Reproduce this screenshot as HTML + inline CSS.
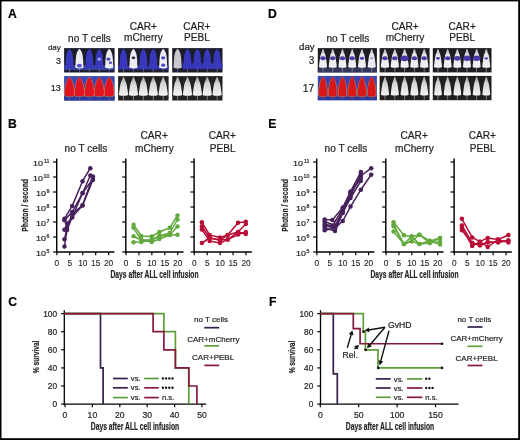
<!DOCTYPE html>
<html><head><meta charset="utf-8"><style>
html,body{margin:0;padding:0;background:#fff;}
svg{display:block;font-family:"Liberation Sans", sans-serif;will-change:transform;}
text{stroke:#1e1e1e;stroke-width:0.2px;}
text.t{stroke-width:0.1px;}
</style></head><body>
<svg width="520" height="440" viewBox="0 0 520 440">
<defs>
<linearGradient id="gW" x1="0" y1="0" x2="0" y2="1"><stop offset="0" stop-color="#a0a0a0"/><stop offset="0.35" stop-color="#d6d6d6"/><stop offset="1" stop-color="#f4f4f4"/></linearGradient>
<linearGradient id="gW2" x1="0" y1="0" x2="0" y2="1"><stop offset="0" stop-color="#b0b0b8"/><stop offset="0.3" stop-color="#e4e4ec"/><stop offset="1" stop-color="#f2f2f6"/></linearGradient>
</defs>
<rect width="520" height="440" fill="#fff"/>
<rect x="0" y="0" width="520" height="1.4" fill="#000"/>
<rect x="0" y="0" width="1.5" height="440" fill="#000"/>
<rect x="518.2" y="0" width="1.8" height="440" fill="#000"/>
<rect x="0" y="438.2" width="520" height="1.8" fill="#000"/>
<text x="7.9" y="17.7" font-size="12.2" text-anchor="start" font-weight="bold" fill="#000" >A</text>
<text x="268.0" y="18" font-size="12.2" text-anchor="start" font-weight="bold" fill="#000" >D</text>
<text x="8.1" y="127.9" font-size="12.2" text-anchor="start" font-weight="bold" fill="#000" >B</text>
<text x="268.2" y="127.9" font-size="12.2" text-anchor="start" font-weight="bold" fill="#000" >E</text>
<text x="8.2" y="305.8" font-size="12.2" text-anchor="start" font-weight="bold" fill="#000" >C</text>
<text x="268.9" y="305.8" font-size="12.2" text-anchor="start" font-weight="bold" fill="#000" >F</text>
<rect x="64.1" y="48.1" width="50.50" height="24.40" fill="#1c1d2c"/>
<rect x="64.10" y="65.18" width="50.50" height="4.88" fill="#3a40a0"/>
<line x1="69.5" y1="68.108" x2="69.5" y2="71.9" stroke="#6060a0" stroke-width="0.9" />
<path d="M69.50,49.08 C69.91,49.08 70.35,49.71 70.72,50.22 C71.09,50.73 71.41,51.30 71.74,52.12 C72.06,52.95 72.44,53.93 72.67,55.17 C72.91,56.40 73.05,58.02 73.16,59.54 C73.28,61.07 73.40,62.87 73.37,64.30 C73.33,65.73 74.18,67.47 72.96,68.11 C71.74,68.74 67.26,68.74 66.04,68.11 C64.82,67.47 65.67,65.73 65.63,64.30 C65.60,62.87 65.72,61.07 65.84,59.54 C65.95,58.02 66.09,56.40 66.33,55.17 C66.56,53.93 66.94,52.95 67.26,52.12 C67.59,51.30 67.91,50.73 68.28,50.22 C68.65,49.71 69.09,49.08 69.50,49.08 Z" fill="#3838bc"/>
<line x1="79.425" y1="68.108" x2="79.425" y2="71.9" stroke="#6060a0" stroke-width="0.9" />
<path d="M79.42,49.08 C79.83,49.08 80.27,49.71 80.65,50.22 C81.02,50.73 81.34,51.30 81.66,52.12 C81.99,52.95 82.36,53.93 82.60,55.17 C82.84,56.40 82.97,58.02 83.09,59.54 C83.20,61.07 83.32,62.87 83.29,64.30 C83.26,65.73 84.10,67.47 82.88,68.11 C81.66,68.74 77.19,68.74 75.97,68.11 C74.75,67.47 75.59,65.73 75.56,64.30 C75.53,62.87 75.65,61.07 75.76,59.54 C75.88,58.02 76.01,56.40 76.25,55.17 C76.49,53.93 76.86,52.95 77.19,52.12 C77.51,51.30 77.83,50.73 78.20,50.22 C78.58,49.71 79.02,49.08 79.42,49.08 Z" fill="#ececf2"/>
<ellipse cx="79.42" cy="65.67" rx="2.44" ry="1.95" fill="#5050c8"/>
<line x1="89.35" y1="68.108" x2="89.35" y2="71.9" stroke="#6060a0" stroke-width="0.9" />
<path d="M89.35,49.08 C89.76,49.08 90.20,49.71 90.57,50.22 C90.94,50.73 91.26,51.30 91.59,52.12 C91.91,52.95 92.29,53.93 92.52,55.17 C92.76,56.40 92.90,58.02 93.01,59.54 C93.13,61.07 93.25,62.87 93.22,64.30 C93.18,65.73 94.03,67.47 92.81,68.11 C91.59,68.74 87.11,68.74 85.89,68.11 C84.67,67.47 85.52,65.73 85.48,64.30 C85.45,62.87 85.57,61.07 85.69,59.54 C85.80,58.02 85.94,56.40 86.18,55.17 C86.41,53.93 86.79,52.95 87.11,52.12 C87.44,51.30 87.76,50.73 88.13,50.22 C88.50,49.71 88.94,49.08 89.35,49.08 Z" fill="#3838bc"/>
<line x1="99.275" y1="68.108" x2="99.275" y2="71.9" stroke="#6060a0" stroke-width="0.9" />
<path d="M99.28,49.08 C99.68,49.08 100.12,49.71 100.50,50.22 C100.87,50.73 101.19,51.30 101.51,52.12 C101.84,52.95 102.21,53.93 102.45,55.17 C102.69,56.40 102.82,58.02 102.94,59.54 C103.05,61.07 103.17,62.87 103.14,64.30 C103.11,65.73 103.95,67.47 102.73,68.11 C101.51,68.74 97.04,68.74 95.82,68.11 C94.60,67.47 95.44,65.73 95.41,64.30 C95.38,62.87 95.50,61.07 95.61,59.54 C95.73,58.02 95.86,56.40 96.10,55.17 C96.34,53.93 96.71,52.95 97.04,52.12 C97.36,51.30 97.68,50.73 98.05,50.22 C98.43,49.71 98.87,49.08 99.28,49.08 Z" fill="#3838bc"/>
<ellipse cx="99.28" cy="59.08" rx="2.03" ry="1.63" fill="#9aa0e8"/>
<line x1="109.2" y1="68.108" x2="109.2" y2="71.9" stroke="#6060a0" stroke-width="0.9" />
<path d="M109.20,49.08 C109.61,49.08 110.05,49.71 110.42,50.22 C110.79,50.73 111.11,51.30 111.44,52.12 C111.76,52.95 112.14,53.93 112.37,55.17 C112.61,56.40 112.75,58.02 112.86,59.54 C112.98,61.07 113.10,62.87 113.07,64.30 C113.03,65.73 113.88,67.47 112.66,68.11 C111.44,68.74 106.96,68.74 105.74,68.11 C104.52,67.47 105.37,65.73 105.33,64.30 C105.30,62.87 105.42,61.07 105.54,59.54 C105.65,58.02 105.79,56.40 106.03,55.17 C106.26,53.93 106.64,52.95 106.96,52.12 C107.29,51.30 107.61,50.73 107.98,50.22 C108.35,49.71 108.79,49.08 109.20,49.08 Z" fill="#ececf2"/>
<ellipse cx="108.39" cy="59.08" rx="2.03" ry="1.63" fill="#4848c0"/>
<ellipse cx="110.42" cy="62.74" rx="1.63" ry="1.30" fill="#4848c0"/>
<rect x="64.1" y="76.1" width="50.50" height="24.40" fill="#3848b0"/>
<rect x="64.10" y="96.11" width="50.50" height="4.39" fill="#2e3a98"/>
<line x1="69.5" y1="96.108" x2="69.5" y2="99.9" stroke="#505aa0" stroke-width="0.9" />
<path d="M69.50,76.92 C70.10,76.92 70.72,78.28 71.31,79.26 C71.89,80.23 72.54,81.37 73.01,82.77 C73.49,84.16 73.87,86.18 74.15,87.64 C74.42,89.10 74.65,90.30 74.66,91.54 C74.68,92.77 74.51,94.23 74.25,95.04 C73.99,95.86 74.51,96.18 73.12,96.41 C71.72,96.64 67.28,96.64 65.88,96.41 C64.49,96.18 65.01,95.86 64.75,95.04 C64.49,94.23 64.32,92.77 64.34,91.54 C64.35,90.30 64.58,89.10 64.85,87.64 C65.13,86.18 65.51,84.16 65.99,82.77 C66.46,81.37 67.11,80.23 67.69,79.26 C68.28,78.28 68.90,76.92 69.50,76.92 Z" fill="#d89050"/>
<path d="M69.50,77.32 C70.04,77.32 70.60,78.64 71.13,79.57 C71.66,80.51 72.24,81.61 72.67,82.96 C73.10,84.30 73.45,86.24 73.70,87.65 C73.95,89.06 74.15,90.22 74.16,91.41 C74.18,92.60 74.02,94.01 73.79,94.79 C73.56,95.58 74.02,95.89 72.77,96.11 C71.51,96.33 67.49,96.33 66.23,96.11 C64.98,95.89 65.44,95.58 65.21,94.79 C64.98,94.01 64.82,92.60 64.84,91.41 C64.85,90.22 65.05,89.06 65.30,87.65 C65.55,86.24 65.90,84.30 66.33,82.96 C66.76,81.61 67.34,80.51 67.87,79.57 C68.40,78.64 68.96,77.32 69.50,77.32 Z" fill="#e01420"/>
<line x1="79.425" y1="96.108" x2="79.425" y2="99.9" stroke="#505aa0" stroke-width="0.9" />
<path d="M79.42,76.92 C80.03,76.92 80.65,78.28 81.23,79.26 C81.82,80.23 82.46,81.37 82.94,82.77 C83.41,84.16 83.80,86.18 84.07,87.64 C84.35,89.10 84.57,90.30 84.59,91.54 C84.61,92.77 84.43,94.23 84.18,95.04 C83.92,95.86 84.43,96.18 83.04,96.41 C81.65,96.64 77.20,96.64 75.81,96.41 C74.42,96.18 74.93,95.86 74.67,95.04 C74.42,94.23 74.24,92.77 74.26,91.54 C74.28,90.30 74.50,89.10 74.78,87.64 C75.05,86.18 75.44,84.16 75.91,82.77 C76.39,81.37 77.03,80.23 77.62,79.26 C78.20,78.28 78.82,76.92 79.42,76.92 Z" fill="#d89050"/>
<path d="M79.42,77.32 C79.97,77.32 80.53,78.64 81.06,79.57 C81.59,80.51 82.17,81.61 82.60,82.96 C83.02,84.30 83.37,86.24 83.62,87.65 C83.87,89.06 84.07,90.22 84.09,91.41 C84.11,92.60 83.95,94.01 83.72,94.79 C83.48,95.58 83.95,95.89 82.69,96.11 C81.43,96.33 77.42,96.33 76.16,96.11 C74.90,95.89 75.37,95.58 75.13,94.79 C74.90,94.01 74.74,92.60 74.76,91.41 C74.78,90.22 74.98,89.06 75.23,87.65 C75.48,86.24 75.83,84.30 76.25,82.96 C76.68,81.61 77.26,80.51 77.79,79.57 C78.32,78.64 78.88,77.32 79.42,77.32 Z" fill="#e01420"/>
<line x1="89.35" y1="96.108" x2="89.35" y2="99.9" stroke="#505aa0" stroke-width="0.9" />
<path d="M89.35,76.92 C89.95,76.92 90.57,78.28 91.16,79.26 C91.74,80.23 92.39,81.37 92.86,82.77 C93.34,84.16 93.72,86.18 94.00,87.64 C94.27,89.10 94.50,90.30 94.51,91.54 C94.53,92.77 94.36,94.23 94.10,95.04 C93.84,95.86 94.36,96.18 92.97,96.41 C91.57,96.64 87.13,96.64 85.73,96.41 C84.34,96.18 84.86,95.86 84.60,95.04 C84.34,94.23 84.17,92.77 84.19,91.54 C84.20,90.30 84.43,89.10 84.70,87.64 C84.98,86.18 85.36,84.16 85.84,82.77 C86.31,81.37 86.96,80.23 87.54,79.26 C88.13,78.28 88.75,76.92 89.35,76.92 Z" fill="#d89050"/>
<path d="M89.35,77.32 C89.89,77.32 90.45,78.64 90.98,79.57 C91.51,80.51 92.09,81.61 92.52,82.96 C92.95,84.30 93.30,86.24 93.55,87.65 C93.80,89.06 94.00,90.22 94.01,91.41 C94.03,92.60 93.87,94.01 93.64,94.79 C93.41,95.58 93.87,95.89 92.62,96.11 C91.36,96.33 87.34,96.33 86.08,96.11 C84.83,95.89 85.29,95.58 85.06,94.79 C84.83,94.01 84.67,92.60 84.69,91.41 C84.70,90.22 84.90,89.06 85.15,87.65 C85.40,86.24 85.75,84.30 86.18,82.96 C86.61,81.61 87.19,80.51 87.72,79.57 C88.25,78.64 88.81,77.32 89.35,77.32 Z" fill="#e01420"/>
<line x1="99.275" y1="96.108" x2="99.275" y2="99.9" stroke="#505aa0" stroke-width="0.9" />
<path d="M99.28,76.92 C99.88,76.92 100.50,78.28 101.08,79.26 C101.67,80.23 102.31,81.37 102.79,82.77 C103.26,84.16 103.65,86.18 103.92,87.64 C104.20,89.10 104.42,90.30 104.44,91.54 C104.46,92.77 104.28,94.23 104.03,95.04 C103.77,95.86 104.28,96.18 102.89,96.41 C101.50,96.64 97.05,96.64 95.66,96.41 C94.27,96.18 94.78,95.86 94.52,95.04 C94.27,94.23 94.09,92.77 94.11,91.54 C94.13,90.30 94.35,89.10 94.63,87.64 C94.90,86.18 95.29,84.16 95.76,82.77 C96.24,81.37 96.88,80.23 97.47,79.26 C98.05,78.28 98.67,76.92 99.28,76.92 Z" fill="#d89050"/>
<path d="M99.28,77.32 C99.82,77.32 100.38,78.64 100.91,79.57 C101.44,80.51 102.02,81.61 102.45,82.96 C102.87,84.30 103.22,86.24 103.47,87.65 C103.72,89.06 103.92,90.22 103.94,91.41 C103.96,92.60 103.80,94.01 103.57,94.79 C103.33,95.58 103.80,95.89 102.54,96.11 C101.28,96.33 97.27,96.33 96.01,96.11 C94.75,95.89 95.22,95.58 94.98,94.79 C94.75,94.01 94.59,92.60 94.61,91.41 C94.63,90.22 94.83,89.06 95.08,87.65 C95.33,86.24 95.68,84.30 96.10,82.96 C96.53,81.61 97.11,80.51 97.64,79.57 C98.17,78.64 98.73,77.32 99.28,77.32 Z" fill="#e01420"/>
<line x1="109.2" y1="96.108" x2="109.2" y2="99.9" stroke="#505aa0" stroke-width="0.9" />
<path d="M109.20,76.92 C109.80,76.92 110.42,78.28 111.01,79.26 C111.59,80.23 112.24,81.37 112.71,82.77 C113.19,84.16 113.57,86.18 113.85,87.64 C114.12,89.10 114.35,90.30 114.36,91.54 C114.38,92.77 114.21,94.23 113.95,95.04 C113.69,95.86 114.21,96.18 112.82,96.41 C111.42,96.64 106.98,96.64 105.58,96.41 C104.19,96.18 104.71,95.86 104.45,95.04 C104.19,94.23 104.02,92.77 104.04,91.54 C104.05,90.30 104.28,89.10 104.55,87.64 C104.83,86.18 105.21,84.16 105.69,82.77 C106.16,81.37 106.81,80.23 107.39,79.26 C107.98,78.28 108.60,76.92 109.20,76.92 Z" fill="#d89050"/>
<path d="M109.20,77.32 C109.74,77.32 110.30,78.64 110.83,79.57 C111.36,80.51 111.94,81.61 112.37,82.96 C112.80,84.30 113.15,86.24 113.40,87.65 C113.65,89.06 113.85,90.22 113.86,91.41 C113.88,92.60 113.72,94.01 113.49,94.79 C113.26,95.58 113.72,95.89 112.47,96.11 C111.21,96.33 107.19,96.33 105.93,96.11 C104.68,95.89 105.14,95.58 104.91,94.79 C104.68,94.01 104.52,92.60 104.54,91.41 C104.55,90.22 104.75,89.06 105.00,87.65 C105.25,86.24 105.60,84.30 106.03,82.96 C106.46,81.61 107.04,80.51 107.57,79.57 C108.10,78.64 108.66,77.32 109.20,77.32 Z" fill="#e01420"/>
<rect x="118.1" y="48.1" width="50.50" height="24.40" fill="#1c1c2a"/>
<rect x="118.10" y="65.67" width="50.50" height="3.90" fill="#3434a0"/>
<line x1="123.5" y1="68.108" x2="123.5" y2="71.9" stroke="#6060a0" stroke-width="0.9" />
<path d="M123.50,49.08 C123.91,49.08 124.35,49.71 124.72,50.22 C125.09,50.73 125.41,51.30 125.74,52.12 C126.06,52.95 126.44,53.93 126.67,55.17 C126.91,56.40 127.05,58.02 127.16,59.54 C127.28,61.07 127.40,62.87 127.37,64.30 C127.33,65.73 128.18,67.47 126.96,68.11 C125.74,68.74 121.26,68.74 120.04,68.11 C118.82,67.47 119.67,65.73 119.63,64.30 C119.60,62.87 119.72,61.07 119.84,59.54 C119.95,58.02 120.09,56.40 120.33,55.17 C120.56,53.93 120.94,52.95 121.26,52.12 C121.59,51.30 121.91,50.73 122.28,50.22 C122.65,49.71 123.09,49.08 123.50,49.08 Z" fill="#3838bc"/>
<line x1="133.425" y1="68.108" x2="133.425" y2="71.9" stroke="#6060a0" stroke-width="0.9" />
<path d="M133.43,49.08 C133.83,49.08 134.27,49.71 134.65,50.22 C135.02,50.73 135.34,51.30 135.66,52.12 C135.99,52.95 136.36,53.93 136.60,55.17 C136.84,56.40 136.97,58.02 137.09,59.54 C137.20,61.07 137.32,62.87 137.29,64.30 C137.26,65.73 138.10,67.47 136.88,68.11 C135.66,68.74 131.19,68.74 129.97,68.11 C128.75,67.47 129.59,65.73 129.56,64.30 C129.53,62.87 129.65,61.07 129.76,59.54 C129.88,58.02 130.01,56.40 130.25,55.17 C130.49,53.93 130.86,52.95 131.19,52.12 C131.51,51.30 131.83,50.73 132.20,50.22 C132.58,49.71 133.02,49.08 133.43,49.08 Z" fill="#ececf2"/>
<ellipse cx="133.43" cy="57.86" rx="1.83" ry="1.46" fill="#302838"/>
<line x1="143.35" y1="68.108" x2="143.35" y2="71.9" stroke="#6060a0" stroke-width="0.9" />
<path d="M143.35,49.08 C143.76,49.08 144.20,49.71 144.57,50.22 C144.94,50.73 145.26,51.30 145.59,52.12 C145.91,52.95 146.29,53.93 146.52,55.17 C146.76,56.40 146.90,58.02 147.01,59.54 C147.13,61.07 147.25,62.87 147.22,64.30 C147.18,65.73 148.03,67.47 146.81,68.11 C145.59,68.74 141.11,68.74 139.89,68.11 C138.67,67.47 139.52,65.73 139.48,64.30 C139.45,62.87 139.57,61.07 139.69,59.54 C139.80,58.02 139.94,56.40 140.18,55.17 C140.41,53.93 140.79,52.95 141.11,52.12 C141.44,51.30 141.76,50.73 142.13,50.22 C142.50,49.71 142.94,49.08 143.35,49.08 Z" fill="#3838bc"/>
<line x1="153.275" y1="68.108" x2="153.275" y2="71.9" stroke="#6060a0" stroke-width="0.9" />
<path d="M153.28,49.08 C153.68,49.08 154.12,49.71 154.50,50.22 C154.87,50.73 155.19,51.30 155.51,52.12 C155.84,52.95 156.21,53.93 156.45,55.17 C156.69,56.40 156.82,58.02 156.94,59.54 C157.05,61.07 157.17,62.87 157.14,64.30 C157.11,65.73 157.95,67.47 156.73,68.11 C155.51,68.74 151.04,68.74 149.82,68.11 C148.60,67.47 149.44,65.73 149.41,64.30 C149.38,62.87 149.50,61.07 149.61,59.54 C149.73,58.02 149.86,56.40 150.10,55.17 C150.34,53.93 150.71,52.95 151.04,52.12 C151.36,51.30 151.68,50.73 152.05,50.22 C152.43,49.71 152.87,49.08 153.28,49.08 Z" fill="#3838bc"/>
<line x1="163.2" y1="68.108" x2="163.2" y2="71.9" stroke="#6060a0" stroke-width="0.9" />
<path d="M163.20,49.08 C163.61,49.08 164.05,49.71 164.42,50.22 C164.79,50.73 165.11,51.30 165.44,52.12 C165.76,52.95 166.14,53.93 166.37,55.17 C166.61,56.40 166.75,58.02 166.86,59.54 C166.98,61.07 167.10,62.87 167.07,64.30 C167.03,65.73 167.88,67.47 166.66,68.11 C165.44,68.74 160.96,68.74 159.74,68.11 C158.52,67.47 159.37,65.73 159.33,64.30 C159.30,62.87 159.42,61.07 159.54,59.54 C159.65,58.02 159.79,56.40 160.03,55.17 C160.26,53.93 160.64,52.95 160.96,52.12 C161.29,51.30 161.61,50.73 161.98,50.22 C162.35,49.71 162.79,49.08 163.20,49.08 Z" fill="#ececf2"/>
<ellipse cx="163.20" cy="57.86" rx="2.03" ry="1.63" fill="#4848c0"/>
<ellipse cx="163.20" cy="65.18" rx="2.03" ry="1.63" fill="#4848c0"/>
<rect x="118.1" y="76.1" width="50.50" height="24.40" fill="#222222"/>
<line x1="123.5" y1="95.376" x2="123.5" y2="99.9" stroke="#8a8a8a" stroke-width="0.9" />
<path d="M123.50,77.08 C123.83,77.08 124.21,77.81 124.48,78.36 C124.75,78.91 124.84,79.67 125.11,80.37 C125.38,81.07 125.79,81.65 126.09,82.57 C126.39,83.48 126.66,84.64 126.89,85.86 C127.13,87.08 127.34,88.67 127.52,89.89 C127.70,91.11 128.00,92.27 127.97,93.18 C127.93,94.10 128.67,95.01 127.30,95.38 C125.92,95.74 121.08,95.74 119.70,95.38 C118.33,95.01 119.07,94.10 119.03,93.18 C119.00,92.27 119.30,91.11 119.48,89.89 C119.66,88.67 119.87,87.08 120.11,85.86 C120.34,84.64 120.61,83.48 120.91,82.57 C121.21,81.65 121.62,81.07 121.89,80.37 C122.16,79.67 122.25,78.91 122.52,78.36 C122.79,77.81 123.17,77.08 123.50,77.08 Z" fill="url(#gW)"/>
<line x1="133.425" y1="95.376" x2="133.425" y2="99.9" stroke="#8a8a8a" stroke-width="0.9" />
<path d="M133.43,77.08 C133.75,77.08 134.14,77.81 134.41,78.36 C134.68,78.91 134.76,79.67 135.03,80.37 C135.30,81.07 135.72,81.65 136.02,82.57 C136.31,83.48 136.58,84.64 136.82,85.86 C137.06,87.08 137.27,88.67 137.44,89.89 C137.62,91.11 137.93,92.27 137.89,93.18 C137.85,94.10 138.60,95.01 137.22,95.38 C135.84,95.74 131.01,95.74 129.63,95.38 C128.25,95.01 129.00,94.10 128.96,93.18 C128.92,92.27 129.23,91.11 129.41,89.89 C129.58,88.67 129.79,87.08 130.03,85.86 C130.27,84.64 130.54,83.48 130.83,82.57 C131.13,81.65 131.55,81.07 131.82,80.37 C132.09,79.67 132.17,78.91 132.44,78.36 C132.71,77.81 133.10,77.08 133.43,77.08 Z" fill="url(#gW)"/>
<line x1="143.35" y1="95.376" x2="143.35" y2="99.9" stroke="#8a8a8a" stroke-width="0.9" />
<path d="M143.35,77.08 C143.68,77.08 144.06,77.81 144.33,78.36 C144.60,78.91 144.69,79.67 144.96,80.37 C145.23,81.07 145.64,81.65 145.94,82.57 C146.24,83.48 146.51,84.64 146.74,85.86 C146.98,87.08 147.19,88.67 147.37,89.89 C147.55,91.11 147.85,92.27 147.82,93.18 C147.78,94.10 148.52,95.01 147.15,95.38 C145.77,95.74 140.93,95.74 139.55,95.38 C138.18,95.01 138.92,94.10 138.88,93.18 C138.85,92.27 139.15,91.11 139.33,89.89 C139.51,88.67 139.72,87.08 139.96,85.86 C140.19,84.64 140.46,83.48 140.76,82.57 C141.06,81.65 141.47,81.07 141.74,80.37 C142.01,79.67 142.10,78.91 142.37,78.36 C142.64,77.81 143.02,77.08 143.35,77.08 Z" fill="url(#gW)"/>
<line x1="153.275" y1="95.376" x2="153.275" y2="99.9" stroke="#8a8a8a" stroke-width="0.9" />
<path d="M153.28,77.08 C153.60,77.08 153.99,77.81 154.26,78.36 C154.53,78.91 154.61,79.67 154.88,80.37 C155.15,81.07 155.57,81.65 155.87,82.57 C156.16,83.48 156.43,84.64 156.67,85.86 C156.91,87.08 157.12,88.67 157.29,89.89 C157.47,91.11 157.78,92.27 157.74,93.18 C157.70,94.10 158.45,95.01 157.07,95.38 C155.69,95.74 150.86,95.74 149.48,95.38 C148.10,95.01 148.85,94.10 148.81,93.18 C148.77,92.27 149.08,91.11 149.26,89.89 C149.43,88.67 149.64,87.08 149.88,85.86 C150.12,84.64 150.39,83.48 150.68,82.57 C150.98,81.65 151.40,81.07 151.67,80.37 C151.94,79.67 152.02,78.91 152.29,78.36 C152.56,77.81 152.95,77.08 153.28,77.08 Z" fill="url(#gW)"/>
<line x1="163.2" y1="95.376" x2="163.2" y2="99.9" stroke="#8a8a8a" stroke-width="0.9" />
<path d="M163.20,77.08 C163.53,77.08 163.91,77.81 164.18,78.36 C164.45,78.91 164.54,79.67 164.81,80.37 C165.08,81.07 165.49,81.65 165.79,82.57 C166.09,83.48 166.36,84.64 166.59,85.86 C166.83,87.08 167.04,88.67 167.22,89.89 C167.40,91.11 167.70,92.27 167.67,93.18 C167.63,94.10 168.37,95.01 167.00,95.38 C165.62,95.74 160.78,95.74 159.40,95.38 C158.03,95.01 158.77,94.10 158.73,93.18 C158.70,92.27 159.00,91.11 159.18,89.89 C159.36,88.67 159.57,87.08 159.81,85.86 C160.04,84.64 160.31,83.48 160.61,82.57 C160.91,81.65 161.32,81.07 161.59,80.37 C161.86,79.67 161.95,78.91 162.22,78.36 C162.49,77.81 162.87,77.08 163.20,77.08 Z" fill="url(#gW)"/>
<rect x="172.2" y="48.1" width="50.30" height="24.40" fill="#1c1c2a"/>
<rect x="182.26" y="63.23" width="40.24" height="5.86" fill="#3636ac"/>
<line x1="177.6" y1="68.108" x2="177.6" y2="71.9" stroke="#6060a0" stroke-width="0.9" />
<path d="M177.60,49.08 C178.00,49.08 178.44,49.71 178.81,50.22 C179.19,50.73 179.50,51.30 179.83,52.12 C180.15,52.95 180.52,53.93 180.76,55.17 C180.99,56.40 181.13,58.02 181.24,59.54 C181.36,61.07 181.48,62.87 181.45,64.30 C181.41,65.73 182.26,67.47 181.04,68.11 C179.83,68.74 175.37,68.74 174.16,68.11 C172.94,67.47 173.79,65.73 173.75,64.30 C173.72,62.87 173.84,61.07 173.96,59.54 C174.07,58.02 174.21,56.40 174.44,55.17 C174.68,53.93 175.05,52.95 175.37,52.12 C175.70,51.30 176.01,50.73 176.39,50.22 C176.76,49.71 177.20,49.08 177.60,49.08 Z" fill="#c8c8cc"/>
<line x1="187.475" y1="68.108" x2="187.475" y2="71.9" stroke="#6060a0" stroke-width="0.9" />
<path d="M187.47,49.08 C187.88,49.08 188.32,49.71 188.69,50.22 C189.06,50.73 189.38,51.30 189.70,52.12 C190.03,52.95 190.40,53.93 190.63,55.17 C190.87,56.40 191.00,58.02 191.12,59.54 C191.23,61.07 191.36,62.87 191.32,64.30 C191.29,65.73 192.13,67.47 190.92,68.11 C189.70,68.74 185.25,68.74 184.03,68.11 C182.82,67.47 183.66,65.73 183.63,64.30 C183.59,62.87 183.72,61.07 183.83,59.54 C183.95,58.02 184.08,56.40 184.32,55.17 C184.55,53.93 184.92,52.95 185.25,52.12 C185.57,51.30 185.89,50.73 186.26,50.22 C186.63,49.71 187.07,49.08 187.47,49.08 Z" fill="#3838bc"/>
<line x1="197.35" y1="68.108" x2="197.35" y2="71.9" stroke="#6060a0" stroke-width="0.9" />
<path d="M197.35,49.08 C197.75,49.08 198.19,49.71 198.56,50.22 C198.94,50.73 199.25,51.30 199.58,52.12 C199.90,52.95 200.27,53.93 200.51,55.17 C200.74,56.40 200.88,58.02 200.99,59.54 C201.11,61.07 201.23,62.87 201.20,64.30 C201.16,65.73 202.01,67.47 200.79,68.11 C199.58,68.74 195.12,68.74 193.91,68.11 C192.69,67.47 193.54,65.73 193.50,64.30 C193.47,62.87 193.59,61.07 193.71,59.54 C193.82,58.02 193.96,56.40 194.19,55.17 C194.43,53.93 194.80,52.95 195.12,52.12 C195.45,51.30 195.76,50.73 196.14,50.22 C196.51,49.71 196.95,49.08 197.35,49.08 Z" fill="#3838bc"/>
<line x1="207.225" y1="68.108" x2="207.225" y2="71.9" stroke="#6060a0" stroke-width="0.9" />
<path d="M207.22,49.08 C207.63,49.08 208.07,49.71 208.44,50.22 C208.81,50.73 209.13,51.30 209.45,52.12 C209.78,52.95 210.15,53.93 210.38,55.17 C210.62,56.40 210.75,58.02 210.87,59.54 C210.98,61.07 211.11,62.87 211.07,64.30 C211.04,65.73 211.88,67.47 210.67,68.11 C209.45,68.74 205.00,68.74 203.78,68.11 C202.57,67.47 203.41,65.73 203.38,64.30 C203.34,62.87 203.47,61.07 203.58,59.54 C203.70,58.02 203.83,56.40 204.07,55.17 C204.30,53.93 204.67,52.95 205.00,52.12 C205.32,51.30 205.64,50.73 206.01,50.22 C206.38,49.71 206.82,49.08 207.22,49.08 Z" fill="#3838bc"/>
<line x1="217.10000000000002" y1="68.108" x2="217.10000000000002" y2="71.9" stroke="#6060a0" stroke-width="0.9" />
<path d="M217.10,49.08 C217.50,49.08 217.94,49.71 218.31,50.22 C218.69,50.73 219.00,51.30 219.33,52.12 C219.65,52.95 220.02,53.93 220.26,55.17 C220.49,56.40 220.63,58.02 220.74,59.54 C220.86,61.07 220.98,62.87 220.95,64.30 C220.91,65.73 221.76,67.47 220.54,68.11 C219.33,68.74 214.87,68.74 213.66,68.11 C212.44,67.47 213.29,65.73 213.25,64.30 C213.22,62.87 213.34,61.07 213.46,59.54 C213.57,58.02 213.71,56.40 213.94,55.17 C214.18,53.93 214.55,52.95 214.87,52.12 C215.20,51.30 215.51,50.73 215.89,50.22 C216.26,49.71 216.70,49.08 217.10,49.08 Z" fill="#3838bc"/>
<rect x="172.2" y="76.1" width="50.30" height="24.40" fill="#222222"/>
<line x1="177.6" y1="95.376" x2="177.6" y2="99.9" stroke="#8a8a8a" stroke-width="0.9" />
<path d="M177.60,77.08 C177.93,77.08 178.31,77.81 178.58,78.36 C178.84,78.91 178.93,79.67 179.20,80.37 C179.47,81.07 179.88,81.65 180.18,82.57 C180.47,83.48 180.74,84.64 180.98,85.86 C181.21,87.08 181.42,88.67 181.60,89.89 C181.78,91.11 182.08,92.27 182.04,93.18 C182.01,94.10 182.75,95.01 181.38,95.38 C180.01,95.74 175.19,95.74 173.82,95.38 C172.45,95.01 173.19,94.10 173.16,93.18 C173.12,92.27 173.42,91.11 173.60,89.89 C173.78,88.67 173.99,87.08 174.22,85.86 C174.46,84.64 174.73,83.48 175.02,82.57 C175.32,81.65 175.73,81.07 176.00,80.37 C176.27,79.67 176.36,78.91 176.62,78.36 C176.89,77.81 177.27,77.08 177.60,77.08 Z" fill="url(#gW)"/>
<line x1="187.475" y1="95.376" x2="187.475" y2="99.9" stroke="#8a8a8a" stroke-width="0.9" />
<path d="M187.47,77.08 C187.80,77.08 188.19,77.81 188.45,78.36 C188.72,78.91 188.81,79.67 189.07,80.37 C189.34,81.07 189.76,81.65 190.05,82.57 C190.35,83.48 190.62,84.64 190.85,85.86 C191.09,87.08 191.30,88.67 191.47,89.89 C191.65,91.11 191.96,92.27 191.92,93.18 C191.88,94.10 192.62,95.01 191.25,95.38 C189.88,95.74 185.07,95.74 183.70,95.38 C182.33,95.01 183.07,94.10 183.03,93.18 C182.99,92.27 183.30,91.11 183.48,89.89 C183.65,88.67 183.86,87.08 184.10,85.86 C184.33,84.64 184.60,83.48 184.90,82.57 C185.19,81.65 185.61,81.07 185.88,80.37 C186.14,79.67 186.23,78.91 186.50,78.36 C186.76,77.81 187.15,77.08 187.47,77.08 Z" fill="url(#gW)"/>
<line x1="197.35" y1="95.376" x2="197.35" y2="99.9" stroke="#8a8a8a" stroke-width="0.9" />
<path d="M197.35,77.08 C197.68,77.08 198.06,77.81 198.33,78.36 C198.59,78.91 198.68,79.67 198.95,80.37 C199.22,81.07 199.63,81.65 199.93,82.57 C200.22,83.48 200.49,84.64 200.73,85.86 C200.96,87.08 201.17,88.67 201.35,89.89 C201.53,91.11 201.83,92.27 201.79,93.18 C201.76,94.10 202.50,95.01 201.13,95.38 C199.76,95.74 194.94,95.74 193.57,95.38 C192.20,95.01 192.94,94.10 192.91,93.18 C192.87,92.27 193.17,91.11 193.35,89.89 C193.53,88.67 193.74,87.08 193.97,85.86 C194.21,84.64 194.48,83.48 194.77,82.57 C195.07,81.65 195.48,81.07 195.75,80.37 C196.02,79.67 196.11,78.91 196.37,78.36 C196.64,77.81 197.02,77.08 197.35,77.08 Z" fill="url(#gW)"/>
<line x1="207.225" y1="95.376" x2="207.225" y2="99.9" stroke="#8a8a8a" stroke-width="0.9" />
<path d="M207.22,77.08 C207.55,77.08 207.94,77.81 208.20,78.36 C208.47,78.91 208.56,79.67 208.82,80.37 C209.09,81.07 209.51,81.65 209.80,82.57 C210.10,83.48 210.37,84.64 210.60,85.86 C210.84,87.08 211.05,88.67 211.22,89.89 C211.40,91.11 211.71,92.27 211.67,93.18 C211.63,94.10 212.37,95.01 211.00,95.38 C209.63,95.74 204.82,95.74 203.45,95.38 C202.08,95.01 202.82,94.10 202.78,93.18 C202.74,92.27 203.05,91.11 203.23,89.89 C203.40,88.67 203.61,87.08 203.85,85.86 C204.08,84.64 204.35,83.48 204.65,82.57 C204.94,81.65 205.36,81.07 205.63,80.37 C205.89,79.67 205.98,78.91 206.25,78.36 C206.51,77.81 206.90,77.08 207.22,77.08 Z" fill="url(#gW)"/>
<line x1="217.10000000000002" y1="95.376" x2="217.10000000000002" y2="99.9" stroke="#8a8a8a" stroke-width="0.9" />
<path d="M217.10,77.08 C217.43,77.08 217.81,77.81 218.08,78.36 C218.34,78.91 218.43,79.67 218.70,80.37 C218.97,81.07 219.38,81.65 219.68,82.57 C219.97,83.48 220.24,84.64 220.48,85.86 C220.71,87.08 220.92,88.67 221.10,89.89 C221.28,91.11 221.58,92.27 221.54,93.18 C221.51,94.10 222.25,95.01 220.88,95.38 C219.51,95.74 214.69,95.74 213.32,95.38 C211.95,95.01 212.69,94.10 212.66,93.18 C212.62,92.27 212.92,91.11 213.10,89.89 C213.28,88.67 213.49,87.08 213.72,85.86 C213.96,84.64 214.23,83.48 214.52,82.57 C214.82,81.65 215.23,81.07 215.50,80.37 C215.77,79.67 215.86,78.91 216.12,78.36 C216.39,77.81 216.77,77.08 217.10,77.08 Z" fill="url(#gW)"/>
<rect x="317.8" y="48.1" width="59.10" height="24.30" fill="#1e1e22"/>
<rect x="317.80" y="67.54" width="59.10" height="4.86" fill="#34345c"/>
<line x1="323.0" y1="67.54" x2="323.0" y2="71.80000000000001" stroke="#8a8a8a" stroke-width="0.9" />
<path d="M323.00,49.07 C323.29,49.07 323.62,49.81 323.86,50.36 C324.09,50.92 324.17,51.69 324.40,52.40 C324.64,53.10 325.00,53.69 325.26,54.61 C325.52,55.54 325.75,56.71 325.96,57.94 C326.17,59.17 326.35,60.77 326.51,62.00 C326.66,63.23 326.93,64.40 326.90,65.32 C326.86,66.25 327.51,67.17 326.31,67.54 C325.11,67.91 320.89,67.91 319.69,67.54 C318.49,67.17 319.14,66.25 319.10,65.32 C319.07,64.40 319.34,63.23 319.49,62.00 C319.65,60.77 319.83,59.17 320.04,57.94 C320.25,56.71 320.48,55.54 320.74,54.61 C321.00,53.69 321.36,53.10 321.60,52.40 C321.83,51.69 321.91,50.92 322.14,50.36 C322.38,49.81 322.71,49.07 323.00,49.07 Z" fill="url(#gW2)"/>
<ellipse cx="323.00" cy="58.31" rx="2.73" ry="1.94" fill="#4a38a8"/>
<line x1="332.74" y1="67.54" x2="332.74" y2="71.80000000000001" stroke="#8a8a8a" stroke-width="0.9" />
<path d="M332.74,49.07 C333.03,49.07 333.36,49.81 333.60,50.36 C333.83,50.92 333.91,51.69 334.14,52.40 C334.38,53.10 334.74,53.69 335.00,54.61 C335.26,55.54 335.49,56.71 335.70,57.94 C335.91,59.17 336.09,60.77 336.25,62.00 C336.40,63.23 336.67,64.40 336.64,65.32 C336.60,66.25 337.25,67.17 336.05,67.54 C334.85,67.91 330.63,67.91 329.43,67.54 C328.23,67.17 328.88,66.25 328.84,65.32 C328.81,64.40 329.08,63.23 329.23,62.00 C329.39,60.77 329.57,59.17 329.78,57.94 C329.99,56.71 330.22,55.54 330.48,54.61 C330.74,53.69 331.10,53.10 331.34,52.40 C331.57,51.69 331.65,50.92 331.88,50.36 C332.12,49.81 332.45,49.07 332.74,49.07 Z" fill="url(#gW2)"/>
<ellipse cx="332.74" cy="58.31" rx="2.73" ry="1.94" fill="#4a38a8"/>
<line x1="342.47999999999996" y1="67.54" x2="342.47999999999996" y2="71.80000000000001" stroke="#8a8a8a" stroke-width="0.9" />
<path d="M342.48,49.07 C342.77,49.07 343.10,49.81 343.34,50.36 C343.57,50.92 343.65,51.69 343.88,52.40 C344.12,53.10 344.48,53.69 344.74,54.61 C345.00,55.54 345.23,56.71 345.44,57.94 C345.65,59.17 345.83,60.77 345.99,62.00 C346.14,63.23 346.41,64.40 346.38,65.32 C346.34,66.25 346.99,67.17 345.79,67.54 C344.59,67.91 340.37,67.91 339.17,67.54 C337.97,67.17 338.62,66.25 338.58,65.32 C338.55,64.40 338.82,63.23 338.97,62.00 C339.13,60.77 339.31,59.17 339.52,57.94 C339.73,56.71 339.96,55.54 340.22,54.61 C340.48,53.69 340.84,53.10 341.08,52.40 C341.31,51.69 341.39,50.92 341.62,50.36 C341.86,49.81 342.19,49.07 342.48,49.07 Z" fill="url(#gW2)"/>
<ellipse cx="342.48" cy="58.31" rx="2.73" ry="1.94" fill="#4a38a8"/>
<line x1="352.21999999999997" y1="67.54" x2="352.21999999999997" y2="71.80000000000001" stroke="#8a8a8a" stroke-width="0.9" />
<path d="M352.22,49.07 C352.51,49.07 352.84,49.81 353.08,50.36 C353.31,50.92 353.39,51.69 353.62,52.40 C353.86,53.10 354.22,53.69 354.48,54.61 C354.74,55.54 354.97,56.71 355.18,57.94 C355.39,59.17 355.57,60.77 355.73,62.00 C355.88,63.23 356.15,64.40 356.12,65.32 C356.08,66.25 356.73,67.17 355.53,67.54 C354.33,67.91 350.11,67.91 348.91,67.54 C347.71,67.17 348.36,66.25 348.32,65.32 C348.29,64.40 348.56,63.23 348.71,62.00 C348.87,60.77 349.05,59.17 349.26,57.94 C349.47,56.71 349.70,55.54 349.96,54.61 C350.22,53.69 350.58,53.10 350.82,52.40 C351.05,51.69 351.13,50.92 351.36,50.36 C351.60,49.81 351.93,49.07 352.22,49.07 Z" fill="url(#gW2)"/>
<ellipse cx="352.22" cy="58.31" rx="2.73" ry="1.94" fill="#4a38a8"/>
<line x1="361.96" y1="67.54" x2="361.96" y2="71.80000000000001" stroke="#8a8a8a" stroke-width="0.9" />
<path d="M361.96,49.07 C362.25,49.07 362.58,49.81 362.82,50.36 C363.05,50.92 363.13,51.69 363.36,52.40 C363.60,53.10 363.96,53.69 364.22,54.61 C364.48,55.54 364.71,56.71 364.92,57.94 C365.13,59.17 365.31,60.77 365.47,62.00 C365.62,63.23 365.89,64.40 365.86,65.32 C365.82,66.25 366.47,67.17 365.27,67.54 C364.07,67.91 359.85,67.91 358.65,67.54 C357.45,67.17 358.10,66.25 358.06,65.32 C358.03,64.40 358.30,63.23 358.45,62.00 C358.61,60.77 358.79,59.17 359.00,57.94 C359.21,56.71 359.44,55.54 359.70,54.61 C359.96,53.69 360.32,53.10 360.56,52.40 C360.79,51.69 360.87,50.92 361.10,50.36 C361.34,49.81 361.67,49.07 361.96,49.07 Z" fill="url(#gW2)"/>
<ellipse cx="361.96" cy="58.31" rx="2.18" ry="1.56" fill="#4a38a8"/>
<line x1="371.7" y1="67.54" x2="371.7" y2="71.80000000000001" stroke="#8a8a8a" stroke-width="0.9" />
<path d="M371.70,49.07 C371.99,49.07 372.32,49.81 372.56,50.36 C372.79,50.92 372.87,51.69 373.10,52.40 C373.34,53.10 373.70,53.69 373.96,54.61 C374.22,55.54 374.45,56.71 374.66,57.94 C374.87,59.17 375.05,60.77 375.21,62.00 C375.36,63.23 375.63,64.40 375.60,65.32 C375.56,66.25 376.21,67.17 375.01,67.54 C373.81,67.91 369.59,67.91 368.39,67.54 C367.19,67.17 367.84,66.25 367.80,65.32 C367.77,64.40 368.04,63.23 368.19,62.00 C368.35,60.77 368.53,59.17 368.74,57.94 C368.95,56.71 369.18,55.54 369.44,54.61 C369.70,53.69 370.06,53.10 370.30,52.40 C370.53,51.69 370.61,50.92 370.84,50.36 C371.08,49.81 371.41,49.07 371.70,49.07 Z" fill="url(#gW2)"/>
<ellipse cx="371.70" cy="58.31" rx="1.36" ry="0.97" fill="#9090b8"/>
<rect x="317.8" y="75.9" width="59.10" height="24.30" fill="#3848b0"/>
<rect x="317.80" y="96.31" width="59.10" height="3.89" fill="#2e3a98"/>
<line x1="323.0" y1="96.312" x2="323.0" y2="99.60000000000001" stroke="#505aa0" stroke-width="0.9" />
<path d="M323.00,76.47 C323.54,76.47 324.09,77.88 324.61,78.89 C325.13,79.90 325.70,81.07 326.12,82.51 C326.54,83.96 326.89,86.04 327.13,87.55 C327.38,89.06 327.58,90.30 327.59,91.58 C327.61,92.85 327.45,94.36 327.22,95.20 C326.99,96.04 327.45,96.38 326.21,96.61 C324.97,96.85 321.03,96.85 319.79,96.61 C318.55,96.38 319.01,96.04 318.78,95.20 C318.55,94.36 318.39,92.85 318.41,91.58 C318.42,90.30 318.62,89.06 318.87,87.55 C319.11,86.04 319.46,83.96 319.88,82.51 C320.30,81.07 320.87,79.90 321.39,78.89 C321.91,77.88 322.46,76.47 323.00,76.47 Z" fill="#d08850"/>
<path d="M323.00,76.87 C323.48,76.87 323.97,78.23 324.43,79.20 C324.90,80.18 325.41,81.31 325.78,82.70 C326.16,84.10 326.46,86.11 326.68,87.56 C326.90,89.02 327.08,90.22 327.09,91.45 C327.10,92.68 326.97,94.14 326.76,94.95 C326.56,95.76 326.97,96.09 325.86,96.31 C324.76,96.54 321.24,96.54 320.14,96.31 C319.03,96.09 319.44,95.76 319.24,94.95 C319.03,94.14 318.90,92.68 318.91,91.45 C318.92,90.22 319.10,89.02 319.32,87.56 C319.54,86.11 319.84,84.10 320.22,82.70 C320.59,81.31 321.10,80.18 321.57,79.20 C322.03,78.23 322.52,76.87 323.00,76.87 Z" fill="#d81818"/>
<line x1="332.74" y1="96.312" x2="332.74" y2="99.60000000000001" stroke="#505aa0" stroke-width="0.9" />
<path d="M332.74,76.47 C333.28,76.47 333.83,77.88 334.35,78.89 C334.87,79.90 335.44,81.07 335.86,82.51 C336.28,83.96 336.63,86.04 336.87,87.55 C337.12,89.06 337.32,90.30 337.33,91.58 C337.35,92.85 337.19,94.36 336.96,95.20 C336.73,96.04 337.19,96.38 335.95,96.61 C334.71,96.85 330.77,96.85 329.53,96.61 C328.29,96.38 328.75,96.04 328.52,95.20 C328.29,94.36 328.13,92.85 328.15,91.58 C328.16,90.30 328.36,89.06 328.61,87.55 C328.85,86.04 329.20,83.96 329.62,82.51 C330.04,81.07 330.61,79.90 331.13,78.89 C331.65,77.88 332.20,76.47 332.74,76.47 Z" fill="#d08850"/>
<path d="M332.74,76.87 C333.22,76.87 333.71,78.23 334.17,79.20 C334.64,80.18 335.15,81.31 335.52,82.70 C335.90,84.10 336.20,86.11 336.42,87.56 C336.64,89.02 336.82,90.22 336.83,91.45 C336.84,92.68 336.71,94.14 336.50,94.95 C336.30,95.76 336.71,96.09 335.60,96.31 C334.50,96.54 330.98,96.54 329.88,96.31 C328.77,96.09 329.18,95.76 328.98,94.95 C328.77,94.14 328.64,92.68 328.65,91.45 C328.66,90.22 328.84,89.02 329.06,87.56 C329.28,86.11 329.58,84.10 329.96,82.70 C330.33,81.31 330.84,80.18 331.31,79.20 C331.77,78.23 332.26,76.87 332.74,76.87 Z" fill="#d81818"/>
<line x1="342.47999999999996" y1="96.312" x2="342.47999999999996" y2="99.60000000000001" stroke="#505aa0" stroke-width="0.9" />
<path d="M342.48,76.47 C343.02,76.47 343.57,77.88 344.09,78.89 C344.61,79.90 345.18,81.07 345.60,82.51 C346.02,83.96 346.37,86.04 346.61,87.55 C346.86,89.06 347.06,90.30 347.07,91.58 C347.09,92.85 346.93,94.36 346.70,95.20 C346.47,96.04 346.93,96.38 345.69,96.61 C344.45,96.85 340.51,96.85 339.27,96.61 C338.03,96.38 338.49,96.04 338.26,95.20 C338.03,94.36 337.87,92.85 337.89,91.58 C337.90,90.30 338.10,89.06 338.35,87.55 C338.59,86.04 338.94,83.96 339.36,82.51 C339.78,81.07 340.35,79.90 340.87,78.89 C341.39,77.88 341.94,76.47 342.48,76.47 Z" fill="#d08850"/>
<path d="M342.48,76.87 C342.96,76.87 343.45,78.23 343.91,79.20 C344.38,80.18 344.89,81.31 345.26,82.70 C345.64,84.10 345.94,86.11 346.16,87.56 C346.38,89.02 346.56,90.22 346.57,91.45 C346.58,92.68 346.45,94.14 346.24,94.95 C346.04,95.76 346.45,96.09 345.34,96.31 C344.24,96.54 340.72,96.54 339.62,96.31 C338.51,96.09 338.92,95.76 338.72,94.95 C338.51,94.14 338.38,92.68 338.39,91.45 C338.40,90.22 338.58,89.02 338.80,87.56 C339.02,86.11 339.32,84.10 339.70,82.70 C340.07,81.31 340.58,80.18 341.05,79.20 C341.51,78.23 342.00,76.87 342.48,76.87 Z" fill="#d81818"/>
<line x1="352.21999999999997" y1="96.312" x2="352.21999999999997" y2="99.60000000000001" stroke="#505aa0" stroke-width="0.9" />
<path d="M352.22,76.47 C352.76,76.47 353.31,77.88 353.83,78.89 C354.35,79.90 354.92,81.07 355.34,82.51 C355.76,83.96 356.11,86.04 356.35,87.55 C356.60,89.06 356.80,90.30 356.81,91.58 C356.83,92.85 356.67,94.36 356.44,95.20 C356.21,96.04 356.67,96.38 355.43,96.61 C354.19,96.85 350.25,96.85 349.01,96.61 C347.77,96.38 348.23,96.04 348.00,95.20 C347.77,94.36 347.61,92.85 347.63,91.58 C347.64,90.30 347.84,89.06 348.09,87.55 C348.33,86.04 348.68,83.96 349.10,82.51 C349.52,81.07 350.09,79.90 350.61,78.89 C351.13,77.88 351.68,76.47 352.22,76.47 Z" fill="#d08850"/>
<path d="M352.22,76.87 C352.70,76.87 353.19,78.23 353.65,79.20 C354.12,80.18 354.63,81.31 355.00,82.70 C355.38,84.10 355.68,86.11 355.90,87.56 C356.12,89.02 356.30,90.22 356.31,91.45 C356.32,92.68 356.19,94.14 355.98,94.95 C355.78,95.76 356.19,96.09 355.08,96.31 C353.98,96.54 350.46,96.54 349.36,96.31 C348.25,96.09 348.66,95.76 348.46,94.95 C348.25,94.14 348.12,92.68 348.13,91.45 C348.14,90.22 348.32,89.02 348.54,87.56 C348.76,86.11 349.06,84.10 349.44,82.70 C349.81,81.31 350.32,80.18 350.79,79.20 C351.25,78.23 351.74,76.87 352.22,76.87 Z" fill="#d81818"/>
<line x1="361.96" y1="96.312" x2="361.96" y2="99.60000000000001" stroke="#505aa0" stroke-width="0.9" />
<path d="M361.96,76.47 C362.50,76.47 363.05,77.88 363.57,78.89 C364.09,79.90 364.66,81.07 365.08,82.51 C365.50,83.96 365.85,86.04 366.09,87.55 C366.34,89.06 366.54,90.30 366.55,91.58 C366.57,92.85 366.41,94.36 366.18,95.20 C365.95,96.04 366.41,96.38 365.17,96.61 C363.93,96.85 359.99,96.85 358.75,96.61 C357.51,96.38 357.97,96.04 357.74,95.20 C357.51,94.36 357.35,92.85 357.37,91.58 C357.38,90.30 357.58,89.06 357.83,87.55 C358.07,86.04 358.42,83.96 358.84,82.51 C359.26,81.07 359.83,79.90 360.35,78.89 C360.87,77.88 361.42,76.47 361.96,76.47 Z" fill="#d08850"/>
<path d="M361.96,76.87 C362.44,76.87 362.93,78.23 363.39,79.20 C363.86,80.18 364.37,81.31 364.74,82.70 C365.12,84.10 365.42,86.11 365.64,87.56 C365.86,89.02 366.04,90.22 366.05,91.45 C366.06,92.68 365.93,94.14 365.72,94.95 C365.52,95.76 365.93,96.09 364.82,96.31 C363.72,96.54 360.20,96.54 359.10,96.31 C357.99,96.09 358.40,95.76 358.20,94.95 C357.99,94.14 357.86,92.68 357.87,91.45 C357.88,90.22 358.06,89.02 358.28,87.56 C358.50,86.11 358.80,84.10 359.18,82.70 C359.55,81.31 360.06,80.18 360.53,79.20 C360.99,78.23 361.48,76.87 361.96,76.87 Z" fill="#d81818"/>
<line x1="371.7" y1="96.312" x2="371.7" y2="99.60000000000001" stroke="#505aa0" stroke-width="0.9" />
<path d="M371.70,76.47 C372.24,76.47 372.79,77.88 373.31,78.89 C373.83,79.90 374.40,81.07 374.82,82.51 C375.24,83.96 375.59,86.04 375.83,87.55 C376.08,89.06 376.28,90.30 376.29,91.58 C376.31,92.85 376.15,94.36 375.92,95.20 C375.69,96.04 376.15,96.38 374.91,96.61 C373.67,96.85 369.73,96.85 368.49,96.61 C367.25,96.38 367.71,96.04 367.48,95.20 C367.25,94.36 367.09,92.85 367.11,91.58 C367.12,90.30 367.32,89.06 367.57,87.55 C367.81,86.04 368.16,83.96 368.58,82.51 C369.00,81.07 369.57,79.90 370.09,78.89 C370.61,77.88 371.16,76.47 371.70,76.47 Z" fill="#d08850"/>
<path d="M371.70,76.87 C372.18,76.87 372.67,78.23 373.13,79.20 C373.60,80.18 374.11,81.31 374.48,82.70 C374.86,84.10 375.16,86.11 375.38,87.56 C375.60,89.02 375.78,90.22 375.79,91.45 C375.80,92.68 375.67,94.14 375.46,94.95 C375.26,95.76 375.67,96.09 374.56,96.31 C373.46,96.54 369.94,96.54 368.84,96.31 C367.73,96.09 368.14,95.76 367.94,94.95 C367.73,94.14 367.60,92.68 367.61,91.45 C367.62,90.22 367.80,89.02 368.02,87.56 C368.24,86.11 368.54,84.10 368.92,82.70 C369.29,81.31 369.80,80.18 370.27,79.20 C370.73,78.23 371.22,76.87 371.70,76.87 Z" fill="#d81818"/>
<rect x="379.6" y="48.1" width="50.00" height="24.30" fill="#1e1e22"/>
<line x1="385.0" y1="67.54" x2="385.0" y2="71.80000000000001" stroke="#8a8a8a" stroke-width="0.9" />
<path d="M385.00,49.07 C385.29,49.07 385.64,49.81 385.88,50.36 C386.13,50.92 386.21,51.69 386.45,52.40 C386.69,53.10 387.06,53.69 387.33,54.61 C387.60,55.54 387.84,56.71 388.05,57.94 C388.27,59.17 388.46,60.77 388.62,62.00 C388.78,63.23 389.05,64.40 389.02,65.32 C388.98,66.25 389.65,67.17 388.42,67.54 C387.18,67.91 382.82,67.91 381.58,67.54 C380.35,67.17 381.02,66.25 380.98,65.32 C380.95,64.40 381.22,63.23 381.38,62.00 C381.54,60.77 381.73,59.17 381.95,57.94 C382.16,56.71 382.40,55.54 382.67,54.61 C382.94,53.69 383.31,53.10 383.55,52.40 C383.79,51.69 383.87,50.92 384.12,50.36 C384.36,49.81 384.71,49.07 385.00,49.07 Z" fill="url(#gW2)"/>
<ellipse cx="385.00" cy="58.31" rx="2.74" ry="1.94" fill="#4a38a8"/>
<line x1="394.8" y1="67.54" x2="394.8" y2="71.80000000000001" stroke="#8a8a8a" stroke-width="0.9" />
<path d="M394.80,49.07 C395.09,49.07 395.44,49.81 395.68,50.36 C395.93,50.92 396.01,51.69 396.25,52.40 C396.49,53.10 396.86,53.69 397.13,54.61 C397.40,55.54 397.64,56.71 397.85,57.94 C398.07,59.17 398.26,60.77 398.42,62.00 C398.58,63.23 398.85,64.40 398.82,65.32 C398.78,66.25 399.45,67.17 398.22,67.54 C396.98,67.91 392.62,67.91 391.38,67.54 C390.15,67.17 390.82,66.25 390.78,65.32 C390.75,64.40 391.02,63.23 391.18,62.00 C391.34,60.77 391.53,59.17 391.75,57.94 C391.96,56.71 392.20,55.54 392.47,54.61 C392.74,53.69 393.11,53.10 393.35,52.40 C393.59,51.69 393.67,50.92 393.92,50.36 C394.16,49.81 394.51,49.07 394.80,49.07 Z" fill="url(#gW2)"/>
<ellipse cx="394.80" cy="58.31" rx="2.74" ry="1.94" fill="#4a38a8"/>
<line x1="404.6" y1="67.54" x2="404.6" y2="71.80000000000001" stroke="#8a8a8a" stroke-width="0.9" />
<path d="M404.60,49.07 C404.89,49.07 405.24,49.81 405.48,50.36 C405.73,50.92 405.81,51.69 406.05,52.40 C406.29,53.10 406.66,53.69 406.93,54.61 C407.20,55.54 407.44,56.71 407.65,57.94 C407.87,59.17 408.06,60.77 408.22,62.00 C408.38,63.23 408.65,64.40 408.62,65.32 C408.58,66.25 409.25,67.17 408.02,67.54 C406.78,67.91 402.42,67.91 401.18,67.54 C399.95,67.17 400.62,66.25 400.58,65.32 C400.55,64.40 400.82,63.23 400.98,62.00 C401.14,60.77 401.33,59.17 401.55,57.94 C401.76,56.71 402.00,55.54 402.27,54.61 C402.54,53.69 402.91,53.10 403.15,52.40 C403.39,51.69 403.47,50.92 403.72,50.36 C403.96,49.81 404.31,49.07 404.60,49.07 Z" fill="url(#gW2)"/>
<ellipse cx="404.60" cy="58.31" rx="4.12" ry="2.92" fill="#4a38a8"/>
<line x1="414.4" y1="67.54" x2="414.4" y2="71.80000000000001" stroke="#8a8a8a" stroke-width="0.9" />
<path d="M414.40,49.07 C414.69,49.07 415.04,49.81 415.28,50.36 C415.53,50.92 415.61,51.69 415.85,52.40 C416.09,53.10 416.46,53.69 416.73,54.61 C417.00,55.54 417.24,56.71 417.45,57.94 C417.67,59.17 417.86,60.77 418.02,62.00 C418.18,63.23 418.45,64.40 418.42,65.32 C418.38,66.25 419.05,67.17 417.82,67.54 C416.58,67.91 412.22,67.91 410.98,67.54 C409.75,67.17 410.42,66.25 410.38,65.32 C410.35,64.40 410.62,63.23 410.78,62.00 C410.94,60.77 411.13,59.17 411.35,57.94 C411.56,56.71 411.80,55.54 412.07,54.61 C412.34,53.69 412.71,53.10 412.95,52.40 C413.19,51.69 413.27,50.92 413.52,50.36 C413.76,49.81 414.11,49.07 414.40,49.07 Z" fill="url(#gW2)"/>
<ellipse cx="414.40" cy="58.31" rx="2.74" ry="1.94" fill="#4a38a8"/>
<line x1="424.2" y1="67.54" x2="424.2" y2="71.80000000000001" stroke="#8a8a8a" stroke-width="0.9" />
<path d="M424.20,49.07 C424.49,49.07 424.84,49.81 425.08,50.36 C425.33,50.92 425.41,51.69 425.65,52.40 C425.89,53.10 426.26,53.69 426.53,54.61 C426.80,55.54 427.04,56.71 427.25,57.94 C427.47,59.17 427.66,60.77 427.82,62.00 C427.98,63.23 428.25,64.40 428.22,65.32 C428.18,66.25 428.85,67.17 427.62,67.54 C426.38,67.91 422.02,67.91 420.78,67.54 C419.55,67.17 420.22,66.25 420.18,65.32 C420.15,64.40 420.42,63.23 420.58,62.00 C420.74,60.77 420.93,59.17 421.15,57.94 C421.36,56.71 421.60,55.54 421.87,54.61 C422.14,53.69 422.51,53.10 422.75,52.40 C422.99,51.69 423.07,50.92 423.32,50.36 C423.56,49.81 423.91,49.07 424.20,49.07 Z" fill="url(#gW2)"/>
<ellipse cx="424.20" cy="58.31" rx="2.74" ry="1.94" fill="#4a38a8"/>
<rect x="379.6" y="75.9" width="50.00" height="24.30" fill="#202020"/>
<line x1="385.0" y1="95.34" x2="385.0" y2="99.60000000000001" stroke="#8a8a8a" stroke-width="0.9" />
<path d="M385.00,76.87 C385.29,76.87 385.63,77.61 385.86,78.16 C386.10,78.72 386.18,79.49 386.41,80.20 C386.65,80.90 387.01,81.49 387.27,82.41 C387.53,83.34 387.77,84.51 387.98,85.74 C388.19,86.97 388.37,88.57 388.53,89.80 C388.68,91.03 388.95,92.20 388.92,93.12 C388.89,94.05 389.54,94.97 388.33,95.34 C387.12,95.71 382.88,95.71 381.67,95.34 C380.46,94.97 381.11,94.05 381.08,93.12 C381.05,92.20 381.32,91.03 381.47,89.80 C381.63,88.57 381.81,86.97 382.02,85.74 C382.23,84.51 382.47,83.34 382.73,82.41 C382.99,81.49 383.35,80.90 383.59,80.20 C383.82,79.49 383.90,78.72 384.14,78.16 C384.37,77.61 384.71,76.87 385.00,76.87 Z" fill="url(#gW)"/>
<line x1="394.8" y1="95.34" x2="394.8" y2="99.60000000000001" stroke="#8a8a8a" stroke-width="0.9" />
<path d="M394.80,76.87 C395.09,76.87 395.43,77.61 395.66,78.16 C395.90,78.72 395.98,79.49 396.21,80.20 C396.45,80.90 396.81,81.49 397.07,82.41 C397.33,83.34 397.57,84.51 397.78,85.74 C397.99,86.97 398.17,88.57 398.33,89.80 C398.48,91.03 398.75,92.20 398.72,93.12 C398.69,94.05 399.34,94.97 398.13,95.34 C396.92,95.71 392.68,95.71 391.47,95.34 C390.26,94.97 390.91,94.05 390.88,93.12 C390.85,92.20 391.12,91.03 391.27,89.80 C391.43,88.57 391.61,86.97 391.82,85.74 C392.03,84.51 392.27,83.34 392.53,82.41 C392.79,81.49 393.15,80.90 393.39,80.20 C393.62,79.49 393.70,78.72 393.94,78.16 C394.17,77.61 394.51,76.87 394.80,76.87 Z" fill="url(#gW)"/>
<line x1="404.6" y1="95.34" x2="404.6" y2="99.60000000000001" stroke="#8a8a8a" stroke-width="0.9" />
<path d="M404.60,76.87 C404.89,76.87 405.23,77.61 405.46,78.16 C405.70,78.72 405.78,79.49 406.01,80.20 C406.25,80.90 406.61,81.49 406.87,82.41 C407.13,83.34 407.37,84.51 407.58,85.74 C407.79,86.97 407.97,88.57 408.13,89.80 C408.28,91.03 408.55,92.20 408.52,93.12 C408.49,94.05 409.14,94.97 407.93,95.34 C406.72,95.71 402.48,95.71 401.27,95.34 C400.06,94.97 400.71,94.05 400.68,93.12 C400.65,92.20 400.92,91.03 401.07,89.80 C401.23,88.57 401.41,86.97 401.62,85.74 C401.83,84.51 402.07,83.34 402.33,82.41 C402.59,81.49 402.95,80.90 403.19,80.20 C403.42,79.49 403.50,78.72 403.74,78.16 C403.97,77.61 404.31,76.87 404.60,76.87 Z" fill="url(#gW)"/>
<line x1="414.4" y1="95.34" x2="414.4" y2="99.60000000000001" stroke="#8a8a8a" stroke-width="0.9" />
<path d="M414.40,76.87 C414.69,76.87 415.03,77.61 415.26,78.16 C415.50,78.72 415.58,79.49 415.81,80.20 C416.05,80.90 416.41,81.49 416.67,82.41 C416.93,83.34 417.17,84.51 417.38,85.74 C417.59,86.97 417.77,88.57 417.93,89.80 C418.08,91.03 418.35,92.20 418.32,93.12 C418.29,94.05 418.94,94.97 417.73,95.34 C416.52,95.71 412.28,95.71 411.07,95.34 C409.86,94.97 410.51,94.05 410.48,93.12 C410.45,92.20 410.72,91.03 410.87,89.80 C411.03,88.57 411.21,86.97 411.42,85.74 C411.63,84.51 411.87,83.34 412.13,82.41 C412.39,81.49 412.75,80.90 412.99,80.20 C413.22,79.49 413.30,78.72 413.54,78.16 C413.77,77.61 414.11,76.87 414.40,76.87 Z" fill="url(#gW)"/>
<line x1="424.2" y1="95.34" x2="424.2" y2="99.60000000000001" stroke="#8a8a8a" stroke-width="0.9" />
<path d="M424.20,76.87 C424.49,76.87 424.83,77.61 425.06,78.16 C425.30,78.72 425.38,79.49 425.61,80.20 C425.85,80.90 426.21,81.49 426.47,82.41 C426.73,83.34 426.97,84.51 427.18,85.74 C427.39,86.97 427.57,88.57 427.73,89.80 C427.88,91.03 428.15,92.20 428.12,93.12 C428.09,94.05 428.74,94.97 427.53,95.34 C426.32,95.71 422.08,95.71 420.87,95.34 C419.66,94.97 420.31,94.05 420.28,93.12 C420.25,92.20 420.52,91.03 420.67,89.80 C420.83,88.57 421.01,86.97 421.22,85.74 C421.43,84.51 421.67,83.34 421.93,82.41 C422.19,81.49 422.55,80.90 422.79,80.20 C423.02,79.49 423.10,78.72 423.34,78.16 C423.57,77.61 423.91,76.87 424.20,76.87 Z" fill="url(#gW)"/>
<rect x="432.8" y="48.1" width="58.70" height="24.30" fill="#1e1e22"/>
<line x1="438.0" y1="67.54" x2="438.0" y2="71.80000000000001" stroke="#8a8a8a" stroke-width="0.9" />
<path d="M438.00,49.07 C438.28,49.07 438.62,49.81 438.85,50.36 C439.08,50.92 439.16,51.69 439.39,52.40 C439.62,53.10 439.98,53.69 440.24,54.61 C440.50,55.54 440.73,56.71 440.94,57.94 C441.14,59.17 441.32,60.77 441.48,62.00 C441.63,63.23 441.90,64.40 441.86,65.32 C441.83,66.25 442.48,67.17 441.28,67.54 C440.09,67.91 435.91,67.91 434.72,67.54 C433.52,67.17 434.17,66.25 434.14,65.32 C434.10,64.40 434.37,63.23 434.52,62.00 C434.68,60.77 434.86,59.17 435.06,57.94 C435.27,56.71 435.50,55.54 435.76,54.61 C436.02,53.69 436.38,53.10 436.61,52.40 C436.84,51.69 436.92,50.92 437.15,50.36 C437.38,49.81 437.72,49.07 438.00,49.07 Z" fill="url(#gW2)"/>
<ellipse cx="438.00" cy="58.31" rx="1.89" ry="1.36" fill="#4a38a8"/>
<line x1="447.66" y1="67.54" x2="447.66" y2="71.80000000000001" stroke="#8a8a8a" stroke-width="0.9" />
<path d="M447.66,49.07 C447.94,49.07 448.28,49.81 448.51,50.36 C448.74,50.92 448.82,51.69 449.05,52.40 C449.28,53.10 449.64,53.69 449.90,54.61 C450.16,55.54 450.39,56.71 450.60,57.94 C450.80,59.17 450.98,60.77 451.14,62.00 C451.29,63.23 451.56,64.40 451.52,65.32 C451.49,66.25 452.14,67.17 450.94,67.54 C449.75,67.91 445.57,67.91 444.38,67.54 C443.18,67.17 443.83,66.25 443.80,65.32 C443.76,64.40 444.03,63.23 444.18,62.00 C444.34,60.77 444.52,59.17 444.72,57.94 C444.93,56.71 445.16,55.54 445.42,54.61 C445.68,53.69 446.04,53.10 446.27,52.40 C446.50,51.69 446.58,50.92 446.81,50.36 C447.04,49.81 447.38,49.07 447.66,49.07 Z" fill="url(#gW2)"/>
<ellipse cx="447.66" cy="58.31" rx="2.70" ry="1.94" fill="#4a38a8"/>
<line x1="457.32" y1="67.54" x2="457.32" y2="71.80000000000001" stroke="#8a8a8a" stroke-width="0.9" />
<path d="M457.32,49.07 C457.60,49.07 457.94,49.81 458.17,50.36 C458.40,50.92 458.48,51.69 458.71,52.40 C458.94,53.10 459.30,53.69 459.56,54.61 C459.82,55.54 460.05,56.71 460.26,57.94 C460.46,59.17 460.64,60.77 460.80,62.00 C460.95,63.23 461.22,64.40 461.18,65.32 C461.15,66.25 461.80,67.17 460.60,67.54 C459.41,67.91 455.23,67.91 454.04,67.54 C452.84,67.17 453.49,66.25 453.46,65.32 C453.42,64.40 453.69,63.23 453.84,62.00 C454.00,60.77 454.18,59.17 454.38,57.94 C454.59,56.71 454.82,55.54 455.08,54.61 C455.34,53.69 455.70,53.10 455.93,52.40 C456.16,51.69 456.24,50.92 456.47,50.36 C456.70,49.81 457.04,49.07 457.32,49.07 Z" fill="url(#gW2)"/>
<ellipse cx="457.32" cy="58.31" rx="3.25" ry="2.33" fill="#4a38a8"/>
<line x1="466.98" y1="67.54" x2="466.98" y2="71.80000000000001" stroke="#8a8a8a" stroke-width="0.9" />
<path d="M466.98,49.07 C467.26,49.07 467.60,49.81 467.83,50.36 C468.06,50.92 468.14,51.69 468.37,52.40 C468.60,53.10 468.96,53.69 469.22,54.61 C469.48,55.54 469.71,56.71 469.92,57.94 C470.12,59.17 470.30,60.77 470.46,62.00 C470.61,63.23 470.88,64.40 470.84,65.32 C470.81,66.25 471.46,67.17 470.26,67.54 C469.07,67.91 464.89,67.91 463.70,67.54 C462.50,67.17 463.15,66.25 463.12,65.32 C463.08,64.40 463.35,63.23 463.50,62.00 C463.66,60.77 463.84,59.17 464.04,57.94 C464.25,56.71 464.48,55.54 464.74,54.61 C465.00,53.69 465.36,53.10 465.59,52.40 C465.82,51.69 465.90,50.92 466.13,50.36 C466.36,49.81 466.70,49.07 466.98,49.07 Z" fill="url(#gW2)"/>
<ellipse cx="466.98" cy="58.31" rx="3.79" ry="2.72" fill="#4a38a8"/>
<line x1="476.64" y1="67.54" x2="476.64" y2="71.80000000000001" stroke="#8a8a8a" stroke-width="0.9" />
<path d="M476.64,49.07 C476.92,49.07 477.26,49.81 477.49,50.36 C477.72,50.92 477.80,51.69 478.03,52.40 C478.26,53.10 478.62,53.69 478.88,54.61 C479.14,55.54 479.37,56.71 479.58,57.94 C479.78,59.17 479.96,60.77 480.12,62.00 C480.27,63.23 480.54,64.40 480.50,65.32 C480.47,66.25 481.12,67.17 479.92,67.54 C478.73,67.91 474.55,67.91 473.36,67.54 C472.16,67.17 472.81,66.25 472.78,65.32 C472.74,64.40 473.01,63.23 473.16,62.00 C473.32,60.77 473.50,59.17 473.70,57.94 C473.91,56.71 474.14,55.54 474.40,54.61 C474.66,53.69 475.02,53.10 475.25,52.40 C475.48,51.69 475.56,50.92 475.79,50.36 C476.02,49.81 476.36,49.07 476.64,49.07 Z" fill="url(#gW2)"/>
<ellipse cx="476.64" cy="58.31" rx="3.79" ry="2.72" fill="#4a38a8"/>
<line x1="486.3" y1="67.54" x2="486.3" y2="71.80000000000001" stroke="#8a8a8a" stroke-width="0.9" />
<path d="M486.30,49.07 C486.58,49.07 486.92,49.81 487.15,50.36 C487.38,50.92 487.46,51.69 487.69,52.40 C487.92,53.10 488.28,53.69 488.54,54.61 C488.80,55.54 489.03,56.71 489.24,57.94 C489.44,59.17 489.62,60.77 489.78,62.00 C489.93,63.23 490.20,64.40 490.16,65.32 C490.13,66.25 490.78,67.17 489.58,67.54 C488.39,67.91 484.21,67.91 483.02,67.54 C481.82,67.17 482.47,66.25 482.44,65.32 C482.40,64.40 482.67,63.23 482.82,62.00 C482.98,60.77 483.16,59.17 483.36,57.94 C483.57,56.71 483.80,55.54 484.06,54.61 C484.32,53.69 484.68,53.10 484.91,52.40 C485.14,51.69 485.22,50.92 485.45,50.36 C485.68,49.81 486.02,49.07 486.30,49.07 Z" fill="url(#gW2)"/>
<ellipse cx="486.30" cy="58.31" rx="1.62" ry="1.17" fill="#4a38a8"/>
<rect x="432.8" y="75.9" width="58.70" height="24.30" fill="#202020"/>
<line x1="438.0" y1="95.34" x2="438.0" y2="99.60000000000001" stroke="#8a8a8a" stroke-width="0.9" />
<path d="M438.00,76.87 C438.28,76.87 438.60,77.61 438.83,78.16 C439.05,78.72 439.13,79.49 439.36,80.20 C439.58,80.90 439.93,81.49 440.19,82.41 C440.44,83.34 440.66,84.51 440.86,85.74 C441.06,86.97 441.24,88.57 441.39,89.80 C441.54,91.03 441.80,92.20 441.77,93.12 C441.74,94.05 442.36,94.97 441.20,95.34 C440.04,95.71 435.96,95.71 434.80,95.34 C433.64,94.97 434.26,94.05 434.23,93.12 C434.20,92.20 434.46,91.03 434.61,89.80 C434.76,88.57 434.94,86.97 435.14,85.74 C435.34,84.51 435.56,83.34 435.81,82.41 C436.07,81.49 436.42,80.90 436.64,80.20 C436.87,79.49 436.95,78.72 437.17,78.16 C437.40,77.61 437.72,76.87 438.00,76.87 Z" fill="url(#gW)"/>
<line x1="447.66" y1="95.34" x2="447.66" y2="99.60000000000001" stroke="#8a8a8a" stroke-width="0.9" />
<path d="M447.66,76.87 C447.94,76.87 448.26,77.61 448.49,78.16 C448.71,78.72 448.79,79.49 449.02,80.20 C449.24,80.90 449.59,81.49 449.85,82.41 C450.10,83.34 450.32,84.51 450.52,85.74 C450.72,86.97 450.90,88.57 451.05,89.80 C451.20,91.03 451.46,92.20 451.43,93.12 C451.40,94.05 452.02,94.97 450.86,95.34 C449.70,95.71 445.62,95.71 444.46,95.34 C443.30,94.97 443.92,94.05 443.89,93.12 C443.86,92.20 444.12,91.03 444.27,89.80 C444.42,88.57 444.60,86.97 444.80,85.74 C445.00,84.51 445.22,83.34 445.47,82.41 C445.73,81.49 446.08,80.90 446.30,80.20 C446.53,79.49 446.61,78.72 446.83,78.16 C447.06,77.61 447.38,76.87 447.66,76.87 Z" fill="url(#gW)"/>
<line x1="457.32" y1="95.34" x2="457.32" y2="99.60000000000001" stroke="#8a8a8a" stroke-width="0.9" />
<path d="M457.32,76.87 C457.60,76.87 457.92,77.61 458.15,78.16 C458.37,78.72 458.45,79.49 458.68,80.20 C458.90,80.90 459.25,81.49 459.51,82.41 C459.76,83.34 459.98,84.51 460.18,85.74 C460.38,86.97 460.56,88.57 460.71,89.80 C460.86,91.03 461.12,92.20 461.09,93.12 C461.06,94.05 461.68,94.97 460.52,95.34 C459.36,95.71 455.28,95.71 454.12,95.34 C452.96,94.97 453.58,94.05 453.55,93.12 C453.52,92.20 453.78,91.03 453.93,89.80 C454.08,88.57 454.26,86.97 454.46,85.74 C454.66,84.51 454.88,83.34 455.13,82.41 C455.39,81.49 455.74,80.90 455.96,80.20 C456.19,79.49 456.27,78.72 456.49,78.16 C456.72,77.61 457.04,76.87 457.32,76.87 Z" fill="url(#gW)"/>
<line x1="466.98" y1="95.34" x2="466.98" y2="99.60000000000001" stroke="#8a8a8a" stroke-width="0.9" />
<path d="M466.98,76.87 C467.26,76.87 467.58,77.61 467.81,78.16 C468.03,78.72 468.11,79.49 468.34,80.20 C468.56,80.90 468.91,81.49 469.17,82.41 C469.42,83.34 469.64,84.51 469.84,85.74 C470.04,86.97 470.22,88.57 470.37,89.80 C470.52,91.03 470.78,92.20 470.75,93.12 C470.72,94.05 471.34,94.97 470.18,95.34 C469.02,95.71 464.94,95.71 463.78,95.34 C462.62,94.97 463.24,94.05 463.21,93.12 C463.18,92.20 463.44,91.03 463.59,89.80 C463.74,88.57 463.92,86.97 464.12,85.74 C464.32,84.51 464.54,83.34 464.79,82.41 C465.05,81.49 465.40,80.90 465.62,80.20 C465.85,79.49 465.93,78.72 466.15,78.16 C466.38,77.61 466.70,76.87 466.98,76.87 Z" fill="url(#gW)"/>
<line x1="476.64" y1="95.34" x2="476.64" y2="99.60000000000001" stroke="#8a8a8a" stroke-width="0.9" />
<path d="M476.64,76.87 C476.92,76.87 477.24,77.61 477.47,78.16 C477.69,78.72 477.77,79.49 478.00,80.20 C478.22,80.90 478.57,81.49 478.83,82.41 C479.08,83.34 479.30,84.51 479.50,85.74 C479.70,86.97 479.88,88.57 480.03,89.80 C480.18,91.03 480.44,92.20 480.41,93.12 C480.38,94.05 481.00,94.97 479.84,95.34 C478.68,95.71 474.60,95.71 473.44,95.34 C472.28,94.97 472.90,94.05 472.87,93.12 C472.84,92.20 473.10,91.03 473.25,89.80 C473.40,88.57 473.58,86.97 473.78,85.74 C473.98,84.51 474.20,83.34 474.45,82.41 C474.71,81.49 475.06,80.90 475.28,80.20 C475.51,79.49 475.59,78.72 475.81,78.16 C476.04,77.61 476.36,76.87 476.64,76.87 Z" fill="url(#gW)"/>
<line x1="486.3" y1="95.34" x2="486.3" y2="99.60000000000001" stroke="#8a8a8a" stroke-width="0.9" />
<path d="M486.30,76.87 C486.58,76.87 486.90,77.61 487.13,78.16 C487.35,78.72 487.43,79.49 487.66,80.20 C487.88,80.90 488.23,81.49 488.49,82.41 C488.74,83.34 488.96,84.51 489.16,85.74 C489.36,86.97 489.54,88.57 489.69,89.80 C489.84,91.03 490.10,92.20 490.07,93.12 C490.04,94.05 490.66,94.97 489.50,95.34 C488.34,95.71 484.26,95.71 483.10,95.34 C481.94,94.97 482.56,94.05 482.53,93.12 C482.50,92.20 482.76,91.03 482.91,89.80 C483.06,88.57 483.24,86.97 483.44,85.74 C483.64,84.51 483.86,83.34 484.11,82.41 C484.37,81.49 484.72,80.90 484.94,80.20 C485.17,79.49 485.25,78.72 485.47,78.16 C485.70,77.61 486.02,76.87 486.30,76.87 Z" fill="url(#gW)"/>
<text x="89.5" y="41.6" font-size="10.1" text-anchor="middle" font-weight="normal" fill="#1e1e1e" >no T cells</text>
<text x="143.4" y="29.6" font-size="10.1" text-anchor="middle" font-weight="normal" fill="#1e1e1e" >CAR+</text>
<text x="143.4" y="41.3" font-size="10.1" text-anchor="middle" font-weight="normal" fill="#1e1e1e" >mCherry</text>
<text x="196.9" y="29.6" font-size="10.1" text-anchor="middle" font-weight="normal" fill="#1e1e1e" >CAR+</text>
<text x="196.9" y="41.3" font-size="10.1" text-anchor="middle" font-weight="normal" fill="#1e1e1e" >PEBL</text>
<text x="347.9" y="41.6" font-size="10.1" text-anchor="middle" font-weight="normal" fill="#1e1e1e" >no T cells</text>
<text x="405.0" y="29.6" font-size="10.1" text-anchor="middle" font-weight="normal" fill="#1e1e1e" >CAR+</text>
<text x="405.0" y="41.3" font-size="10.1" text-anchor="middle" font-weight="normal" fill="#1e1e1e" >mCherry</text>
<text x="462.2" y="29.6" font-size="10.1" text-anchor="middle" font-weight="normal" fill="#1e1e1e" >CAR+</text>
<text x="462.2" y="41.3" font-size="10.1" text-anchor="middle" font-weight="normal" fill="#1e1e1e" >PEBL</text>
<text x="60.8" y="50.0" font-size="8" text-anchor="end" font-weight="normal" fill="#1e1e1e" >day</text>
<text x="61.1" y="63.6" font-size="9" text-anchor="end" font-weight="normal" fill="#1e1e1e" >3</text>
<text x="60.8" y="91.3" font-size="9" text-anchor="end" font-weight="normal" fill="#1e1e1e" >13</text>
<text transform="translate(314.7,49.6) scale(1.075,1)" font-size="9.0" text-anchor="end" font-weight="normal" fill="#1e1e1e" >day</text>
<text x="314.2" y="63.9" font-size="10" text-anchor="end" font-weight="normal" fill="#1e1e1e" >3</text>
<text x="314.2" y="91.5" font-size="10.2" text-anchor="end" font-weight="normal" fill="#1e1e1e" >17</text>
<line x1="56.7" y1="158.6" x2="56.7" y2="252.7" stroke="#000" stroke-width="1.45" />
<line x1="56.0" y1="252.0" x2="114.4" y2="252.0" stroke="#000" stroke-width="1.45" />
<line x1="53.1" y1="252.0" x2="56.7" y2="252.0" stroke="#000" stroke-width="1.2" />
<line x1="53.1" y1="237.0" x2="56.7" y2="237.0" stroke="#000" stroke-width="1.2" />
<line x1="53.1" y1="222.0" x2="56.7" y2="222.0" stroke="#000" stroke-width="1.2" />
<line x1="53.1" y1="207.0" x2="56.7" y2="207.0" stroke="#000" stroke-width="1.2" />
<line x1="53.1" y1="192.0" x2="56.7" y2="192.0" stroke="#000" stroke-width="1.2" />
<line x1="53.1" y1="177.0" x2="56.7" y2="177.0" stroke="#000" stroke-width="1.2" />
<line x1="53.1" y1="162.0" x2="56.7" y2="162.0" stroke="#000" stroke-width="1.2" />
<line x1="56.900000000000006" y1="252" x2="56.900000000000006" y2="255.3" stroke="#000" stroke-width="1.2" />
<text x="56.900000000000006" y="265.5" font-size="8.3" text-anchor="middle" font-weight="normal" fill="#1e1e1e" class="t">0</text>
<line x1="69.825" y1="252" x2="69.825" y2="255.3" stroke="#000" stroke-width="1.2" />
<text x="69.825" y="265.5" font-size="8.3" text-anchor="middle" font-weight="normal" fill="#1e1e1e" class="t">5</text>
<line x1="82.75" y1="252" x2="82.75" y2="255.3" stroke="#000" stroke-width="1.2" />
<text x="82.75" y="265.5" font-size="8.3" text-anchor="middle" font-weight="normal" fill="#1e1e1e" class="t">10</text>
<line x1="95.67500000000001" y1="252" x2="95.67500000000001" y2="255.3" stroke="#000" stroke-width="1.2" />
<text x="95.67500000000001" y="265.5" font-size="8.3" text-anchor="middle" font-weight="normal" fill="#1e1e1e" class="t">15</text>
<line x1="108.60000000000001" y1="252" x2="108.60000000000001" y2="255.3" stroke="#000" stroke-width="1.2" />
<text x="108.60000000000001" y="265.5" font-size="8.3" text-anchor="middle" font-weight="normal" fill="#1e1e1e" class="t">20</text>
<line x1="125.8" y1="158.6" x2="125.8" y2="252.7" stroke="#000" stroke-width="1.45" />
<line x1="125.1" y1="252.0" x2="183.5" y2="252.0" stroke="#000" stroke-width="1.45" />
<line x1="122.2" y1="252.0" x2="125.8" y2="252.0" stroke="#000" stroke-width="1.2" />
<line x1="122.2" y1="237.0" x2="125.8" y2="237.0" stroke="#000" stroke-width="1.2" />
<line x1="122.2" y1="222.0" x2="125.8" y2="222.0" stroke="#000" stroke-width="1.2" />
<line x1="122.2" y1="207.0" x2="125.8" y2="207.0" stroke="#000" stroke-width="1.2" />
<line x1="122.2" y1="192.0" x2="125.8" y2="192.0" stroke="#000" stroke-width="1.2" />
<line x1="122.2" y1="177.0" x2="125.8" y2="177.0" stroke="#000" stroke-width="1.2" />
<line x1="122.2" y1="162.0" x2="125.8" y2="162.0" stroke="#000" stroke-width="1.2" />
<line x1="126.0" y1="252" x2="126.0" y2="255.3" stroke="#000" stroke-width="1.2" />
<text x="126.0" y="265.5" font-size="8.3" text-anchor="middle" font-weight="normal" fill="#1e1e1e" class="t">0</text>
<line x1="138.925" y1="252" x2="138.925" y2="255.3" stroke="#000" stroke-width="1.2" />
<text x="138.925" y="265.5" font-size="8.3" text-anchor="middle" font-weight="normal" fill="#1e1e1e" class="t">5</text>
<line x1="151.85" y1="252" x2="151.85" y2="255.3" stroke="#000" stroke-width="1.2" />
<text x="151.85" y="265.5" font-size="8.3" text-anchor="middle" font-weight="normal" fill="#1e1e1e" class="t">10</text>
<line x1="164.775" y1="252" x2="164.775" y2="255.3" stroke="#000" stroke-width="1.2" />
<text x="164.775" y="265.5" font-size="8.3" text-anchor="middle" font-weight="normal" fill="#1e1e1e" class="t">15</text>
<line x1="177.7" y1="252" x2="177.7" y2="255.3" stroke="#000" stroke-width="1.2" />
<text x="177.7" y="265.5" font-size="8.3" text-anchor="middle" font-weight="normal" fill="#1e1e1e" class="t">20</text>
<line x1="194.1" y1="158.6" x2="194.1" y2="252.7" stroke="#000" stroke-width="1.45" />
<line x1="193.4" y1="252.0" x2="251.8" y2="252.0" stroke="#000" stroke-width="1.45" />
<line x1="190.5" y1="252.0" x2="194.1" y2="252.0" stroke="#000" stroke-width="1.2" />
<line x1="190.5" y1="237.0" x2="194.1" y2="237.0" stroke="#000" stroke-width="1.2" />
<line x1="190.5" y1="222.0" x2="194.1" y2="222.0" stroke="#000" stroke-width="1.2" />
<line x1="190.5" y1="207.0" x2="194.1" y2="207.0" stroke="#000" stroke-width="1.2" />
<line x1="190.5" y1="192.0" x2="194.1" y2="192.0" stroke="#000" stroke-width="1.2" />
<line x1="190.5" y1="177.0" x2="194.1" y2="177.0" stroke="#000" stroke-width="1.2" />
<line x1="190.5" y1="162.0" x2="194.1" y2="162.0" stroke="#000" stroke-width="1.2" />
<line x1="194.29999999999998" y1="252" x2="194.29999999999998" y2="255.3" stroke="#000" stroke-width="1.2" />
<text x="194.29999999999998" y="265.5" font-size="8.3" text-anchor="middle" font-weight="normal" fill="#1e1e1e" class="t">0</text>
<line x1="207.225" y1="252" x2="207.225" y2="255.3" stroke="#000" stroke-width="1.2" />
<text x="207.225" y="265.5" font-size="8.3" text-anchor="middle" font-weight="normal" fill="#1e1e1e" class="t">5</text>
<line x1="220.14999999999998" y1="252" x2="220.14999999999998" y2="255.3" stroke="#000" stroke-width="1.2" />
<text x="220.14999999999998" y="265.5" font-size="8.3" text-anchor="middle" font-weight="normal" fill="#1e1e1e" class="t">10</text>
<line x1="233.075" y1="252" x2="233.075" y2="255.3" stroke="#000" stroke-width="1.2" />
<text x="233.075" y="265.5" font-size="8.3" text-anchor="middle" font-weight="normal" fill="#1e1e1e" class="t">15</text>
<line x1="246.0" y1="252" x2="246.0" y2="255.3" stroke="#000" stroke-width="1.2" />
<text x="246.0" y="265.5" font-size="8.3" text-anchor="middle" font-weight="normal" fill="#1e1e1e" class="t">20</text>
<text x="49.40" y="252.60" font-size="5.3" text-anchor="end" fill="#1e1e1e">5</text>
<text transform="translate(45.95,256.30) scale(1.12,1)" font-size="8" text-anchor="end" fill="#1e1e1e">10</text>
<text x="49.40" y="237.60" font-size="5.3" text-anchor="end" fill="#1e1e1e">6</text>
<text transform="translate(45.95,241.30) scale(1.12,1)" font-size="8" text-anchor="end" fill="#1e1e1e">10</text>
<text x="49.40" y="222.60" font-size="5.3" text-anchor="end" fill="#1e1e1e">7</text>
<text transform="translate(45.95,226.30) scale(1.12,1)" font-size="8" text-anchor="end" fill="#1e1e1e">10</text>
<text x="49.40" y="207.60" font-size="5.3" text-anchor="end" fill="#1e1e1e">8</text>
<text transform="translate(45.95,211.30) scale(1.12,1)" font-size="8" text-anchor="end" fill="#1e1e1e">10</text>
<text x="49.40" y="192.60" font-size="5.3" text-anchor="end" fill="#1e1e1e">9</text>
<text transform="translate(45.95,196.30) scale(1.12,1)" font-size="8" text-anchor="end" fill="#1e1e1e">10</text>
<text x="49.40" y="177.60" font-size="5.3" text-anchor="end" fill="#1e1e1e">10</text>
<text transform="translate(43.01,181.30) scale(1.12,1)" font-size="8" text-anchor="end" fill="#1e1e1e">10</text>
<text x="49.40" y="162.60" font-size="5.3" text-anchor="end" fill="#1e1e1e">11</text>
<text transform="translate(43.01,166.30) scale(1.12,1)" font-size="8" text-anchor="end" fill="#1e1e1e">10</text>
<text x="86.0" y="152.0" font-size="10.1" text-anchor="middle" font-weight="normal" fill="#1e1e1e" >no T cells</text>
<text x="154.2" y="139.3" font-size="10.1" text-anchor="middle" font-weight="normal" fill="#1e1e1e" >CAR+</text>
<text x="154.4" y="152.0" font-size="10.1" text-anchor="middle" font-weight="normal" fill="#1e1e1e" >mCherry</text>
<text x="222.3" y="139.3" font-size="10.1" text-anchor="middle" font-weight="normal" fill="#1e1e1e" >CAR+</text>
<text x="222.6" y="152.0" font-size="10.1" text-anchor="middle" font-weight="normal" fill="#1e1e1e" >PEBL</text>
<text transform="translate(28.0,205.4) rotate(-90)" font-size="9.6" font-weight="bold" text-anchor="middle" fill="#1e1e1e" textLength="52.6" lengthAdjust="spacingAndGlyphs">Photon / second</text>
<text x="154.5" y="277.6" font-size="10.2" font-weight="bold" text-anchor="middle" fill="#1e1e1e" textLength="88.0" lengthAdjust="spacingAndGlyphs">Days after ALL cell infusion</text>
<line x1="316.7" y1="158.6" x2="316.7" y2="252.7" stroke="#000" stroke-width="1.45" />
<line x1="316.0" y1="252.0" x2="374.4" y2="252.0" stroke="#000" stroke-width="1.45" />
<line x1="313.09999999999997" y1="252.0" x2="316.7" y2="252.0" stroke="#000" stroke-width="1.2" />
<line x1="313.09999999999997" y1="237.0" x2="316.7" y2="237.0" stroke="#000" stroke-width="1.2" />
<line x1="313.09999999999997" y1="222.0" x2="316.7" y2="222.0" stroke="#000" stroke-width="1.2" />
<line x1="313.09999999999997" y1="207.0" x2="316.7" y2="207.0" stroke="#000" stroke-width="1.2" />
<line x1="313.09999999999997" y1="192.0" x2="316.7" y2="192.0" stroke="#000" stroke-width="1.2" />
<line x1="313.09999999999997" y1="177.0" x2="316.7" y2="177.0" stroke="#000" stroke-width="1.2" />
<line x1="313.09999999999997" y1="162.0" x2="316.7" y2="162.0" stroke="#000" stroke-width="1.2" />
<line x1="316.9" y1="252" x2="316.9" y2="255.3" stroke="#000" stroke-width="1.2" />
<text x="316.9" y="265.5" font-size="8.3" text-anchor="middle" font-weight="normal" fill="#1e1e1e" class="t">0</text>
<line x1="329.825" y1="252" x2="329.825" y2="255.3" stroke="#000" stroke-width="1.2" />
<text x="329.825" y="265.5" font-size="8.3" text-anchor="middle" font-weight="normal" fill="#1e1e1e" class="t">5</text>
<line x1="342.75" y1="252" x2="342.75" y2="255.3" stroke="#000" stroke-width="1.2" />
<text x="342.75" y="265.5" font-size="8.3" text-anchor="middle" font-weight="normal" fill="#1e1e1e" class="t">10</text>
<line x1="355.67499999999995" y1="252" x2="355.67499999999995" y2="255.3" stroke="#000" stroke-width="1.2" />
<text x="355.67499999999995" y="265.5" font-size="8.3" text-anchor="middle" font-weight="normal" fill="#1e1e1e" class="t">15</text>
<line x1="368.59999999999997" y1="252" x2="368.59999999999997" y2="255.3" stroke="#000" stroke-width="1.2" />
<text x="368.59999999999997" y="265.5" font-size="8.3" text-anchor="middle" font-weight="normal" fill="#1e1e1e" class="t">20</text>
<line x1="385.8" y1="158.6" x2="385.8" y2="252.7" stroke="#000" stroke-width="1.45" />
<line x1="385.1" y1="252.0" x2="443.5" y2="252.0" stroke="#000" stroke-width="1.45" />
<line x1="382.2" y1="252.0" x2="385.8" y2="252.0" stroke="#000" stroke-width="1.2" />
<line x1="382.2" y1="237.0" x2="385.8" y2="237.0" stroke="#000" stroke-width="1.2" />
<line x1="382.2" y1="222.0" x2="385.8" y2="222.0" stroke="#000" stroke-width="1.2" />
<line x1="382.2" y1="207.0" x2="385.8" y2="207.0" stroke="#000" stroke-width="1.2" />
<line x1="382.2" y1="192.0" x2="385.8" y2="192.0" stroke="#000" stroke-width="1.2" />
<line x1="382.2" y1="177.0" x2="385.8" y2="177.0" stroke="#000" stroke-width="1.2" />
<line x1="382.2" y1="162.0" x2="385.8" y2="162.0" stroke="#000" stroke-width="1.2" />
<line x1="386.0" y1="252" x2="386.0" y2="255.3" stroke="#000" stroke-width="1.2" />
<text x="386.0" y="265.5" font-size="8.3" text-anchor="middle" font-weight="normal" fill="#1e1e1e" class="t">0</text>
<line x1="398.925" y1="252" x2="398.925" y2="255.3" stroke="#000" stroke-width="1.2" />
<text x="398.925" y="265.5" font-size="8.3" text-anchor="middle" font-weight="normal" fill="#1e1e1e" class="t">5</text>
<line x1="411.85" y1="252" x2="411.85" y2="255.3" stroke="#000" stroke-width="1.2" />
<text x="411.85" y="265.5" font-size="8.3" text-anchor="middle" font-weight="normal" fill="#1e1e1e" class="t">10</text>
<line x1="424.775" y1="252" x2="424.775" y2="255.3" stroke="#000" stroke-width="1.2" />
<text x="424.775" y="265.5" font-size="8.3" text-anchor="middle" font-weight="normal" fill="#1e1e1e" class="t">15</text>
<line x1="437.7" y1="252" x2="437.7" y2="255.3" stroke="#000" stroke-width="1.2" />
<text x="437.7" y="265.5" font-size="8.3" text-anchor="middle" font-weight="normal" fill="#1e1e1e" class="t">20</text>
<line x1="454.1" y1="158.6" x2="454.1" y2="252.7" stroke="#000" stroke-width="1.45" />
<line x1="453.40000000000003" y1="252.0" x2="511.8" y2="252.0" stroke="#000" stroke-width="1.45" />
<line x1="450.5" y1="252.0" x2="454.1" y2="252.0" stroke="#000" stroke-width="1.2" />
<line x1="450.5" y1="237.0" x2="454.1" y2="237.0" stroke="#000" stroke-width="1.2" />
<line x1="450.5" y1="222.0" x2="454.1" y2="222.0" stroke="#000" stroke-width="1.2" />
<line x1="450.5" y1="207.0" x2="454.1" y2="207.0" stroke="#000" stroke-width="1.2" />
<line x1="450.5" y1="192.0" x2="454.1" y2="192.0" stroke="#000" stroke-width="1.2" />
<line x1="450.5" y1="177.0" x2="454.1" y2="177.0" stroke="#000" stroke-width="1.2" />
<line x1="450.5" y1="162.0" x2="454.1" y2="162.0" stroke="#000" stroke-width="1.2" />
<line x1="454.3" y1="252" x2="454.3" y2="255.3" stroke="#000" stroke-width="1.2" />
<text x="454.3" y="265.5" font-size="8.3" text-anchor="middle" font-weight="normal" fill="#1e1e1e" class="t">0</text>
<line x1="467.225" y1="252" x2="467.225" y2="255.3" stroke="#000" stroke-width="1.2" />
<text x="467.225" y="265.5" font-size="8.3" text-anchor="middle" font-weight="normal" fill="#1e1e1e" class="t">5</text>
<line x1="480.15000000000003" y1="252" x2="480.15000000000003" y2="255.3" stroke="#000" stroke-width="1.2" />
<text x="480.15000000000003" y="265.5" font-size="8.3" text-anchor="middle" font-weight="normal" fill="#1e1e1e" class="t">10</text>
<line x1="493.075" y1="252" x2="493.075" y2="255.3" stroke="#000" stroke-width="1.2" />
<text x="493.075" y="265.5" font-size="8.3" text-anchor="middle" font-weight="normal" fill="#1e1e1e" class="t">15</text>
<line x1="506.0" y1="252" x2="506.0" y2="255.3" stroke="#000" stroke-width="1.2" />
<text x="506.0" y="265.5" font-size="8.3" text-anchor="middle" font-weight="normal" fill="#1e1e1e" class="t">20</text>
<text x="309.40" y="252.60" font-size="5.3" text-anchor="end" fill="#1e1e1e">5</text>
<text transform="translate(305.95,256.30) scale(1.12,1)" font-size="8" text-anchor="end" fill="#1e1e1e">10</text>
<text x="309.40" y="237.60" font-size="5.3" text-anchor="end" fill="#1e1e1e">6</text>
<text transform="translate(305.95,241.30) scale(1.12,1)" font-size="8" text-anchor="end" fill="#1e1e1e">10</text>
<text x="309.40" y="222.60" font-size="5.3" text-anchor="end" fill="#1e1e1e">7</text>
<text transform="translate(305.95,226.30) scale(1.12,1)" font-size="8" text-anchor="end" fill="#1e1e1e">10</text>
<text x="309.40" y="207.60" font-size="5.3" text-anchor="end" fill="#1e1e1e">8</text>
<text transform="translate(305.95,211.30) scale(1.12,1)" font-size="8" text-anchor="end" fill="#1e1e1e">10</text>
<text x="309.40" y="192.60" font-size="5.3" text-anchor="end" fill="#1e1e1e">9</text>
<text transform="translate(305.95,196.30) scale(1.12,1)" font-size="8" text-anchor="end" fill="#1e1e1e">10</text>
<text x="309.40" y="177.60" font-size="5.3" text-anchor="end" fill="#1e1e1e">10</text>
<text transform="translate(303.01,181.30) scale(1.12,1)" font-size="8" text-anchor="end" fill="#1e1e1e">10</text>
<text x="309.40" y="162.60" font-size="5.3" text-anchor="end" fill="#1e1e1e">11</text>
<text transform="translate(303.01,166.30) scale(1.12,1)" font-size="8" text-anchor="end" fill="#1e1e1e">10</text>
<text x="346.0" y="152.0" font-size="10.1" text-anchor="middle" font-weight="normal" fill="#1e1e1e" >no T cells</text>
<text x="414.2" y="139.3" font-size="10.1" text-anchor="middle" font-weight="normal" fill="#1e1e1e" >CAR+</text>
<text x="414.4" y="152.0" font-size="10.1" text-anchor="middle" font-weight="normal" fill="#1e1e1e" >mCherry</text>
<text x="482.3" y="139.3" font-size="10.1" text-anchor="middle" font-weight="normal" fill="#1e1e1e" >CAR+</text>
<text x="482.6" y="152.0" font-size="10.1" text-anchor="middle" font-weight="normal" fill="#1e1e1e" >PEBL</text>
<text transform="translate(288.0,205.4) rotate(-90)" font-size="9.6" font-weight="bold" text-anchor="middle" fill="#1e1e1e" textLength="52.6" lengthAdjust="spacingAndGlyphs">Photon / second</text>
<text x="414.5" y="277.6" font-size="10.2" font-weight="bold" text-anchor="middle" fill="#1e1e1e" textLength="88.0" lengthAdjust="spacingAndGlyphs">Days after ALL cell infusion</text>
<polyline points="64.45,218.80 72.21,205.90 82.55,181.20 90.31,168.20" fill="none" stroke="#45205c" stroke-width="1.5" stroke-linejoin="round"/>
<polyline points="64.45,220.20 72.21,212.00 82.55,193.20 90.31,175.50" fill="none" stroke="#45205c" stroke-width="1.5" stroke-linejoin="round"/>
<polyline points="64.45,229.70 67.04,223.60 72.21,217.50 82.55,193.00 92.89,178.90" fill="none" stroke="#45205c" stroke-width="1.5" stroke-linejoin="round"/>
<polyline points="64.45,239.30 67.04,227.70 72.21,214.00 82.55,205.20 92.89,176.50" fill="none" stroke="#45205c" stroke-width="1.5" stroke-linejoin="round"/>
<polyline points="64.45,246.50 67.04,230.00 72.21,217.00 82.55,205.50 92.89,180.00" fill="none" stroke="#45205c" stroke-width="1.5" stroke-linejoin="round"/>
<circle cx="64.45" cy="218.80" r="2.25" fill="#45205c"/>
<circle cx="72.21" cy="205.90" r="2.25" fill="#45205c"/>
<circle cx="82.55" cy="181.20" r="2.25" fill="#45205c"/>
<circle cx="90.31" cy="168.20" r="2.25" fill="#45205c"/>
<circle cx="64.45" cy="220.20" r="2.25" fill="#45205c"/>
<circle cx="72.21" cy="212.00" r="2.25" fill="#45205c"/>
<circle cx="82.55" cy="193.20" r="2.25" fill="#45205c"/>
<circle cx="90.31" cy="175.50" r="2.25" fill="#45205c"/>
<circle cx="64.45" cy="229.70" r="2.25" fill="#45205c"/>
<circle cx="67.04" cy="223.60" r="2.25" fill="#45205c"/>
<circle cx="72.21" cy="217.50" r="2.25" fill="#45205c"/>
<circle cx="82.55" cy="193.00" r="2.25" fill="#45205c"/>
<circle cx="92.89" cy="178.90" r="2.25" fill="#45205c"/>
<circle cx="64.45" cy="239.30" r="2.25" fill="#45205c"/>
<circle cx="67.04" cy="227.70" r="2.25" fill="#45205c"/>
<circle cx="72.21" cy="214.00" r="2.25" fill="#45205c"/>
<circle cx="82.55" cy="205.20" r="2.25" fill="#45205c"/>
<circle cx="92.89" cy="176.50" r="2.25" fill="#45205c"/>
<circle cx="64.45" cy="246.50" r="2.25" fill="#45205c"/>
<circle cx="67.04" cy="230.00" r="2.25" fill="#45205c"/>
<circle cx="72.21" cy="217.00" r="2.25" fill="#45205c"/>
<circle cx="82.55" cy="205.50" r="2.25" fill="#45205c"/>
<circle cx="92.89" cy="180.00" r="2.25" fill="#45205c"/>
<polyline points="133.56,224.70 141.31,236.00 151.65,236.50 159.41,232.00 169.75,227.80 177.50,215.50" fill="none" stroke="#62aa3e" stroke-width="1.5" stroke-linejoin="round"/>
<polyline points="133.56,227.80 141.31,240.00 151.65,240.00 159.41,236.00 169.75,233.00 177.50,219.50" fill="none" stroke="#62aa3e" stroke-width="1.5" stroke-linejoin="round"/>
<polyline points="133.56,236.30 141.31,240.00 151.65,242.00 159.41,239.00 169.75,235.00 177.50,226.60" fill="none" stroke="#62aa3e" stroke-width="1.5" stroke-linejoin="round"/>
<polyline points="133.56,242.20 141.31,242.00 151.65,240.00 159.41,236.00 169.75,235.00 177.50,234.80" fill="none" stroke="#62aa3e" stroke-width="1.5" stroke-linejoin="round"/>
<circle cx="133.56" cy="224.70" r="2.25" fill="#62aa3e"/>
<circle cx="141.31" cy="236.00" r="2.25" fill="#62aa3e"/>
<circle cx="151.65" cy="236.50" r="2.25" fill="#62aa3e"/>
<circle cx="159.41" cy="232.00" r="2.25" fill="#62aa3e"/>
<circle cx="169.75" cy="227.80" r="2.25" fill="#62aa3e"/>
<circle cx="177.50" cy="215.50" r="2.25" fill="#62aa3e"/>
<circle cx="133.56" cy="227.80" r="2.25" fill="#62aa3e"/>
<circle cx="141.31" cy="240.00" r="2.25" fill="#62aa3e"/>
<circle cx="151.65" cy="240.00" r="2.25" fill="#62aa3e"/>
<circle cx="159.41" cy="236.00" r="2.25" fill="#62aa3e"/>
<circle cx="169.75" cy="233.00" r="2.25" fill="#62aa3e"/>
<circle cx="177.50" cy="219.50" r="2.25" fill="#62aa3e"/>
<circle cx="133.56" cy="236.30" r="2.25" fill="#62aa3e"/>
<circle cx="141.31" cy="240.00" r="2.25" fill="#62aa3e"/>
<circle cx="151.65" cy="242.00" r="2.25" fill="#62aa3e"/>
<circle cx="159.41" cy="239.00" r="2.25" fill="#62aa3e"/>
<circle cx="169.75" cy="235.00" r="2.25" fill="#62aa3e"/>
<circle cx="177.50" cy="226.60" r="2.25" fill="#62aa3e"/>
<circle cx="133.56" cy="242.20" r="2.25" fill="#62aa3e"/>
<circle cx="141.31" cy="242.00" r="2.25" fill="#62aa3e"/>
<circle cx="151.65" cy="240.00" r="2.25" fill="#62aa3e"/>
<circle cx="159.41" cy="236.00" r="2.25" fill="#62aa3e"/>
<circle cx="169.75" cy="235.00" r="2.25" fill="#62aa3e"/>
<circle cx="177.50" cy="234.80" r="2.25" fill="#62aa3e"/>
<polyline points="201.85,222.30 209.61,235.00 219.95,237.50 227.70,235.00 238.04,222.80 245.80,221.80" fill="none" stroke="#b80e36" stroke-width="1.5" stroke-linejoin="round"/>
<polyline points="201.85,226.20 209.61,238.00 219.95,240.00 227.70,239.60 238.04,232.00 245.80,224.00" fill="none" stroke="#b80e36" stroke-width="1.5" stroke-linejoin="round"/>
<polyline points="201.85,229.40 209.61,241.00 219.95,243.00 227.70,239.60 238.04,234.50 245.80,232.00" fill="none" stroke="#b80e36" stroke-width="1.5" stroke-linejoin="round"/>
<polyline points="201.85,243.00 209.61,238.00 219.95,240.00 227.70,235.00 238.04,232.00 245.80,234.00" fill="none" stroke="#b80e36" stroke-width="1.5" stroke-linejoin="round"/>
<circle cx="201.85" cy="222.30" r="2.25" fill="#b80e36"/>
<circle cx="209.61" cy="235.00" r="2.25" fill="#b80e36"/>
<circle cx="219.95" cy="237.50" r="2.25" fill="#b80e36"/>
<circle cx="227.70" cy="235.00" r="2.25" fill="#b80e36"/>
<circle cx="238.04" cy="222.80" r="2.25" fill="#b80e36"/>
<circle cx="245.80" cy="221.80" r="2.25" fill="#b80e36"/>
<circle cx="201.85" cy="226.20" r="2.25" fill="#b80e36"/>
<circle cx="209.61" cy="238.00" r="2.25" fill="#b80e36"/>
<circle cx="219.95" cy="240.00" r="2.25" fill="#b80e36"/>
<circle cx="227.70" cy="239.60" r="2.25" fill="#b80e36"/>
<circle cx="238.04" cy="232.00" r="2.25" fill="#b80e36"/>
<circle cx="245.80" cy="224.00" r="2.25" fill="#b80e36"/>
<circle cx="201.85" cy="229.40" r="2.25" fill="#b80e36"/>
<circle cx="209.61" cy="241.00" r="2.25" fill="#b80e36"/>
<circle cx="219.95" cy="243.00" r="2.25" fill="#b80e36"/>
<circle cx="227.70" cy="239.60" r="2.25" fill="#b80e36"/>
<circle cx="238.04" cy="234.50" r="2.25" fill="#b80e36"/>
<circle cx="245.80" cy="232.00" r="2.25" fill="#b80e36"/>
<circle cx="201.85" cy="243.00" r="2.25" fill="#b80e36"/>
<circle cx="209.61" cy="238.00" r="2.25" fill="#b80e36"/>
<circle cx="219.95" cy="240.00" r="2.25" fill="#b80e36"/>
<circle cx="227.70" cy="235.00" r="2.25" fill="#b80e36"/>
<circle cx="238.04" cy="232.00" r="2.25" fill="#b80e36"/>
<circle cx="245.80" cy="234.00" r="2.25" fill="#b80e36"/>
<polyline points="324.65,219.40 332.41,219.90 342.75,207.60 350.50,191.60 360.84,172.00" fill="none" stroke="#45205c" stroke-width="1.5" stroke-linejoin="round"/>
<polyline points="324.65,221.50 335.00,225.50 342.75,211.50 350.50,195.90 360.84,174.00" fill="none" stroke="#45205c" stroke-width="1.5" stroke-linejoin="round"/>
<polyline points="324.65,225.50 335.00,228.30 342.75,211.50 350.50,193.00 360.84,178.00" fill="none" stroke="#45205c" stroke-width="1.5" stroke-linejoin="round"/>
<polyline points="324.65,227.80 335.00,231.00 342.75,213.00 350.50,198.00 360.84,181.00" fill="none" stroke="#45205c" stroke-width="1.5" stroke-linejoin="round"/>
<polyline points="324.65,230.20 335.00,228.30 342.75,221.00 350.50,206.60 360.84,189.80 371.18,174.80" fill="none" stroke="#45205c" stroke-width="1.5" stroke-linejoin="round"/>
<polyline points="324.65,224.00 332.41,226.00 342.75,209.00 350.50,194.00 360.84,176.00 371.18,168.20" fill="none" stroke="#45205c" stroke-width="1.5" stroke-linejoin="round"/>
<circle cx="324.65" cy="219.40" r="2.25" fill="#45205c"/>
<circle cx="332.41" cy="219.90" r="2.25" fill="#45205c"/>
<circle cx="342.75" cy="207.60" r="2.25" fill="#45205c"/>
<circle cx="350.50" cy="191.60" r="2.25" fill="#45205c"/>
<circle cx="360.84" cy="172.00" r="2.25" fill="#45205c"/>
<circle cx="324.65" cy="221.50" r="2.25" fill="#45205c"/>
<circle cx="335.00" cy="225.50" r="2.25" fill="#45205c"/>
<circle cx="342.75" cy="211.50" r="2.25" fill="#45205c"/>
<circle cx="350.50" cy="195.90" r="2.25" fill="#45205c"/>
<circle cx="360.84" cy="174.00" r="2.25" fill="#45205c"/>
<circle cx="324.65" cy="225.50" r="2.25" fill="#45205c"/>
<circle cx="335.00" cy="228.30" r="2.25" fill="#45205c"/>
<circle cx="342.75" cy="211.50" r="2.25" fill="#45205c"/>
<circle cx="350.50" cy="193.00" r="2.25" fill="#45205c"/>
<circle cx="360.84" cy="178.00" r="2.25" fill="#45205c"/>
<circle cx="324.65" cy="227.80" r="2.25" fill="#45205c"/>
<circle cx="335.00" cy="231.00" r="2.25" fill="#45205c"/>
<circle cx="342.75" cy="213.00" r="2.25" fill="#45205c"/>
<circle cx="350.50" cy="198.00" r="2.25" fill="#45205c"/>
<circle cx="360.84" cy="181.00" r="2.25" fill="#45205c"/>
<circle cx="324.65" cy="230.20" r="2.25" fill="#45205c"/>
<circle cx="335.00" cy="228.30" r="2.25" fill="#45205c"/>
<circle cx="342.75" cy="221.00" r="2.25" fill="#45205c"/>
<circle cx="350.50" cy="206.60" r="2.25" fill="#45205c"/>
<circle cx="360.84" cy="189.80" r="2.25" fill="#45205c"/>
<circle cx="371.18" cy="174.80" r="2.25" fill="#45205c"/>
<circle cx="324.65" cy="224.00" r="2.25" fill="#45205c"/>
<circle cx="332.41" cy="226.00" r="2.25" fill="#45205c"/>
<circle cx="342.75" cy="209.00" r="2.25" fill="#45205c"/>
<circle cx="350.50" cy="194.00" r="2.25" fill="#45205c"/>
<circle cx="360.84" cy="176.00" r="2.25" fill="#45205c"/>
<circle cx="371.18" cy="168.20" r="2.25" fill="#45205c"/>
<polyline points="393.56,222.30 403.89,235.30 411.65,236.40 419.41,244.00 429.75,241.00 440.09,238.00" fill="none" stroke="#62aa3e" stroke-width="1.5" stroke-linejoin="round"/>
<polyline points="393.56,224.70 403.89,244.00 411.65,241.30 419.41,234.70 429.75,240.80 440.09,244.60" fill="none" stroke="#62aa3e" stroke-width="1.5" stroke-linejoin="round"/>
<polyline points="393.56,226.20 403.89,244.00 411.65,236.40 419.41,234.70 429.75,243.00 440.09,241.40" fill="none" stroke="#62aa3e" stroke-width="1.5" stroke-linejoin="round"/>
<polyline points="393.56,231.40 403.89,244.00 411.65,241.30 419.41,244.00 429.75,243.00 440.09,238.00" fill="none" stroke="#62aa3e" stroke-width="1.5" stroke-linejoin="round"/>
<circle cx="393.56" cy="222.30" r="2.25" fill="#62aa3e"/>
<circle cx="403.89" cy="235.30" r="2.25" fill="#62aa3e"/>
<circle cx="411.65" cy="236.40" r="2.25" fill="#62aa3e"/>
<circle cx="419.41" cy="244.00" r="2.25" fill="#62aa3e"/>
<circle cx="429.75" cy="241.00" r="2.25" fill="#62aa3e"/>
<circle cx="440.09" cy="238.00" r="2.25" fill="#62aa3e"/>
<circle cx="393.56" cy="224.70" r="2.25" fill="#62aa3e"/>
<circle cx="403.89" cy="244.00" r="2.25" fill="#62aa3e"/>
<circle cx="411.65" cy="241.30" r="2.25" fill="#62aa3e"/>
<circle cx="419.41" cy="234.70" r="2.25" fill="#62aa3e"/>
<circle cx="429.75" cy="240.80" r="2.25" fill="#62aa3e"/>
<circle cx="440.09" cy="244.60" r="2.25" fill="#62aa3e"/>
<circle cx="393.56" cy="226.20" r="2.25" fill="#62aa3e"/>
<circle cx="403.89" cy="244.00" r="2.25" fill="#62aa3e"/>
<circle cx="411.65" cy="236.40" r="2.25" fill="#62aa3e"/>
<circle cx="419.41" cy="234.70" r="2.25" fill="#62aa3e"/>
<circle cx="429.75" cy="243.00" r="2.25" fill="#62aa3e"/>
<circle cx="440.09" cy="241.40" r="2.25" fill="#62aa3e"/>
<circle cx="393.56" cy="231.40" r="2.25" fill="#62aa3e"/>
<circle cx="403.89" cy="244.00" r="2.25" fill="#62aa3e"/>
<circle cx="411.65" cy="241.30" r="2.25" fill="#62aa3e"/>
<circle cx="419.41" cy="244.00" r="2.25" fill="#62aa3e"/>
<circle cx="429.75" cy="243.00" r="2.25" fill="#62aa3e"/>
<circle cx="440.09" cy="238.00" r="2.25" fill="#62aa3e"/>
<polyline points="461.86,218.80 472.20,237.40 479.95,241.70 487.71,237.90 498.05,239.50 508.38,235.00" fill="none" stroke="#b80e36" stroke-width="1.5" stroke-linejoin="round"/>
<polyline points="461.86,225.50 472.20,243.00 479.95,245.30 487.71,242.20 498.05,242.20 508.38,240.60" fill="none" stroke="#b80e36" stroke-width="1.5" stroke-linejoin="round"/>
<polyline points="461.86,227.80 472.20,246.10 479.95,241.70 487.71,246.90 498.05,239.50 508.38,242.60" fill="none" stroke="#b80e36" stroke-width="1.5" stroke-linejoin="round"/>
<polyline points="461.86,230.20 472.20,243.00 479.95,245.30 487.71,242.20 498.05,242.20 508.38,240.60" fill="none" stroke="#b80e36" stroke-width="1.5" stroke-linejoin="round"/>
<circle cx="461.86" cy="218.80" r="2.25" fill="#b80e36"/>
<circle cx="472.20" cy="237.40" r="2.25" fill="#b80e36"/>
<circle cx="479.95" cy="241.70" r="2.25" fill="#b80e36"/>
<circle cx="487.71" cy="237.90" r="2.25" fill="#b80e36"/>
<circle cx="498.05" cy="239.50" r="2.25" fill="#b80e36"/>
<circle cx="508.38" cy="235.00" r="2.25" fill="#b80e36"/>
<circle cx="461.86" cy="225.50" r="2.25" fill="#b80e36"/>
<circle cx="472.20" cy="243.00" r="2.25" fill="#b80e36"/>
<circle cx="479.95" cy="245.30" r="2.25" fill="#b80e36"/>
<circle cx="487.71" cy="242.20" r="2.25" fill="#b80e36"/>
<circle cx="498.05" cy="242.20" r="2.25" fill="#b80e36"/>
<circle cx="508.38" cy="240.60" r="2.25" fill="#b80e36"/>
<circle cx="461.86" cy="227.80" r="2.25" fill="#b80e36"/>
<circle cx="472.20" cy="246.10" r="2.25" fill="#b80e36"/>
<circle cx="479.95" cy="241.70" r="2.25" fill="#b80e36"/>
<circle cx="487.71" cy="246.90" r="2.25" fill="#b80e36"/>
<circle cx="498.05" cy="239.50" r="2.25" fill="#b80e36"/>
<circle cx="508.38" cy="242.60" r="2.25" fill="#b80e36"/>
<circle cx="461.86" cy="230.20" r="2.25" fill="#b80e36"/>
<circle cx="472.20" cy="243.00" r="2.25" fill="#b80e36"/>
<circle cx="479.95" cy="245.30" r="2.25" fill="#b80e36"/>
<circle cx="487.71" cy="242.20" r="2.25" fill="#b80e36"/>
<circle cx="498.05" cy="242.20" r="2.25" fill="#b80e36"/>
<circle cx="508.38" cy="240.60" r="2.25" fill="#b80e36"/>
<line x1="64.3" y1="310.2" x2="64.3" y2="404.6" stroke="#000" stroke-width="1.3" />
<line x1="63.699999999999996" y1="404.1" x2="206.2" y2="404.1" stroke="#000" stroke-width="1.3" />
<line x1="61.099999999999994" y1="404.1" x2="64.3" y2="404.1" stroke="#000" stroke-width="1.2" />
<text x="57.099999999999994" y="407.0" font-size="8.3" text-anchor="end" font-weight="normal" fill="#1e1e1e" >0</text>
<line x1="61.099999999999994" y1="386.0" x2="64.3" y2="386.0" stroke="#000" stroke-width="1.2" />
<text x="57.099999999999994" y="388.9" font-size="8.3" text-anchor="end" font-weight="normal" fill="#1e1e1e" >20</text>
<line x1="61.099999999999994" y1="367.90000000000003" x2="64.3" y2="367.90000000000003" stroke="#000" stroke-width="1.2" />
<text x="57.099999999999994" y="370.8" font-size="8.3" text-anchor="end" font-weight="normal" fill="#1e1e1e" >40</text>
<line x1="61.099999999999994" y1="349.8" x2="64.3" y2="349.8" stroke="#000" stroke-width="1.2" />
<text x="57.099999999999994" y="352.7" font-size="8.3" text-anchor="end" font-weight="normal" fill="#1e1e1e" >60</text>
<line x1="61.099999999999994" y1="331.70000000000005" x2="64.3" y2="331.70000000000005" stroke="#000" stroke-width="1.2" />
<text x="57.099999999999994" y="334.6" font-size="8.3" text-anchor="end" font-weight="normal" fill="#1e1e1e" >80</text>
<line x1="61.099999999999994" y1="313.6" x2="64.3" y2="313.6" stroke="#000" stroke-width="1.2" />
<text x="57.099999999999994" y="316.5" font-size="8.3" text-anchor="end" font-weight="normal" fill="#1e1e1e" >100</text>
<line x1="65.0" y1="404.1" x2="65.0" y2="407.2" stroke="#000" stroke-width="1.2" />
<text x="65.0" y="417.6" font-size="8.6" text-anchor="middle" font-weight="normal" fill="#1e1e1e" >0</text>
<line x1="92.4" y1="404.1" x2="92.4" y2="407.2" stroke="#000" stroke-width="1.2" />
<text x="92.4" y="417.6" font-size="8.6" text-anchor="middle" font-weight="normal" fill="#1e1e1e" >10</text>
<line x1="119.80000000000001" y1="404.1" x2="119.80000000000001" y2="407.2" stroke="#000" stroke-width="1.2" />
<text x="119.80000000000001" y="417.6" font-size="8.6" text-anchor="middle" font-weight="normal" fill="#1e1e1e" >20</text>
<line x1="147.2" y1="404.1" x2="147.2" y2="407.2" stroke="#000" stroke-width="1.2" />
<text x="147.2" y="417.6" font-size="8.6" text-anchor="middle" font-weight="normal" fill="#1e1e1e" >30</text>
<line x1="174.60000000000002" y1="404.1" x2="174.60000000000002" y2="407.2" stroke="#000" stroke-width="1.2" />
<text x="174.60000000000002" y="417.6" font-size="8.6" text-anchor="middle" font-weight="normal" fill="#1e1e1e" >40</text>
<line x1="202.0" y1="404.1" x2="202.0" y2="407.2" stroke="#000" stroke-width="1.2" />
<text x="202.0" y="417.6" font-size="8.6" text-anchor="middle" font-weight="normal" fill="#1e1e1e" >50</text>
<text transform="translate(39.3,356.9) rotate(-90)" font-size="9.6" font-weight="bold" text-anchor="middle" fill="#1e1e1e" textLength="32.7" lengthAdjust="spacingAndGlyphs">% survival</text>
<text x="135.0" y="429.5" font-size="10.2" font-weight="bold" text-anchor="middle" fill="#1e1e1e" textLength="88.4" lengthAdjust="spacingAndGlyphs">Days after ALL cell infusion</text>
<polyline points="64.30,313.60 100.50,313.60 100.50,367.90 103.10,367.90 103.10,404.10" fill="none" stroke="#34204a" stroke-width="1.7" stroke-linejoin="miter" stroke-linecap="butt"/>
<polyline points="64.30,313.60 163.90,313.60 163.90,331.70 175.40,331.70 175.40,367.90 188.80,367.90 188.80,404.10" fill="none" stroke="#5d9e3a" stroke-width="1.7" stroke-linejoin="miter" stroke-linecap="butt"/>
<polyline points="64.30,313.60 153.10,313.60 153.10,331.70 163.90,331.70 163.90,349.80 175.40,349.80 175.40,367.90 188.80,367.90 188.80,386.00 196.90,386.00 196.90,404.10" fill="none" stroke="#861a3c" stroke-width="1.7" stroke-linejoin="miter" stroke-linecap="butt"/>
<text x="211" y="322.3" font-size="8" text-anchor="middle" font-weight="normal" fill="#1e1e1e" >no T cells</text>
<line x1="204.3" y1="327.7" x2="219.2" y2="327.7" stroke="#34204a" stroke-width="1.7" />
<text x="213.3" y="341.5" font-size="8" text-anchor="middle" font-weight="normal" fill="#1e1e1e" >CAR+mCherry</text>
<line x1="204.3" y1="345.8" x2="219.2" y2="345.8" stroke="#5d9e3a" stroke-width="1.7" />
<text x="213.1" y="360.3" font-size="8" text-anchor="middle" font-weight="normal" fill="#1e1e1e" >CAR+PEBL</text>
<line x1="204.3" y1="365.4" x2="219.2" y2="365.4" stroke="#861a3c" stroke-width="1.7" />
<line x1="113" y1="378.5" x2="127.8" y2="378.5" stroke="#34204a" stroke-width="1.7" />
<text x="130.8" y="381.1" font-size="7.7" text-anchor="start" font-weight="normal" fill="#1e1e1e" >vs.</text>
<line x1="144.2" y1="378.5" x2="158.8" y2="378.5" stroke="#5d9e3a" stroke-width="1.7" />
<circle cx="162.90" cy="378.40" r="1.2" fill="#151515"/>
<circle cx="166.10" cy="378.40" r="1.2" fill="#151515"/>
<circle cx="169.30" cy="378.40" r="1.2" fill="#151515"/>
<circle cx="172.50" cy="378.40" r="1.2" fill="#151515"/>
<line x1="113" y1="387.8" x2="127.8" y2="387.8" stroke="#34204a" stroke-width="1.7" />
<text x="130.8" y="390.40000000000003" font-size="7.7" text-anchor="start" font-weight="normal" fill="#1e1e1e" >vs.</text>
<line x1="144.2" y1="387.8" x2="158.8" y2="387.8" stroke="#861a3c" stroke-width="1.7" />
<circle cx="162.90" cy="387.70" r="1.2" fill="#151515"/>
<circle cx="166.10" cy="387.70" r="1.2" fill="#151515"/>
<circle cx="169.30" cy="387.70" r="1.2" fill="#151515"/>
<circle cx="172.50" cy="387.70" r="1.2" fill="#151515"/>
<line x1="113" y1="397.6" x2="127.8" y2="397.6" stroke="#5d9e3a" stroke-width="1.7" />
<text x="130.8" y="400.20000000000005" font-size="7.7" text-anchor="start" font-weight="normal" fill="#1e1e1e" >vs.</text>
<line x1="144.2" y1="397.6" x2="158.8" y2="397.6" stroke="#861a3c" stroke-width="1.7" />
<text x="161.9" y="400.0" font-size="7.7" text-anchor="start" font-weight="normal" fill="#1e1e1e" >n.s.</text>
<line x1="320.5" y1="310.2" x2="320.5" y2="404.6" stroke="#000" stroke-width="1.3" />
<line x1="319.9" y1="404.1" x2="458.5" y2="404.1" stroke="#000" stroke-width="1.3" />
<line x1="317.3" y1="404.1" x2="320.5" y2="404.1" stroke="#000" stroke-width="1.2" />
<text x="313.3" y="407.0" font-size="8.3" text-anchor="end" font-weight="normal" fill="#1e1e1e" >0</text>
<line x1="317.3" y1="386.0" x2="320.5" y2="386.0" stroke="#000" stroke-width="1.2" />
<text x="313.3" y="388.9" font-size="8.3" text-anchor="end" font-weight="normal" fill="#1e1e1e" >20</text>
<line x1="317.3" y1="367.90000000000003" x2="320.5" y2="367.90000000000003" stroke="#000" stroke-width="1.2" />
<text x="313.3" y="370.8" font-size="8.3" text-anchor="end" font-weight="normal" fill="#1e1e1e" >40</text>
<line x1="317.3" y1="349.8" x2="320.5" y2="349.8" stroke="#000" stroke-width="1.2" />
<text x="313.3" y="352.7" font-size="8.3" text-anchor="end" font-weight="normal" fill="#1e1e1e" >60</text>
<line x1="317.3" y1="331.70000000000005" x2="320.5" y2="331.70000000000005" stroke="#000" stroke-width="1.2" />
<text x="313.3" y="334.6" font-size="8.3" text-anchor="end" font-weight="normal" fill="#1e1e1e" >80</text>
<line x1="317.3" y1="313.6" x2="320.5" y2="313.6" stroke="#000" stroke-width="1.2" />
<text x="313.3" y="316.5" font-size="8.3" text-anchor="end" font-weight="normal" fill="#1e1e1e" >100</text>
<line x1="320.3" y1="404.1" x2="320.3" y2="407.2" stroke="#000" stroke-width="1.2" />
<text x="320.3" y="417.6" font-size="8.6" text-anchor="middle" font-weight="normal" fill="#1e1e1e" >0</text>
<line x1="358.7" y1="404.1" x2="358.7" y2="407.2" stroke="#000" stroke-width="1.2" />
<text x="358.7" y="417.6" font-size="8.6" text-anchor="middle" font-weight="normal" fill="#1e1e1e" >50</text>
<line x1="397.1" y1="404.1" x2="397.1" y2="407.2" stroke="#000" stroke-width="1.2" />
<text x="397.1" y="417.6" font-size="8.6" text-anchor="middle" font-weight="normal" fill="#1e1e1e" >100</text>
<line x1="435.5" y1="404.1" x2="435.5" y2="407.2" stroke="#000" stroke-width="1.2" />
<text x="435.5" y="417.6" font-size="8.6" text-anchor="middle" font-weight="normal" fill="#1e1e1e" >150</text>
<text transform="translate(295.4,357.0) rotate(-90)" font-size="9.6" font-weight="bold" text-anchor="middle" fill="#1e1e1e" textLength="32.7" lengthAdjust="spacingAndGlyphs">% survival</text>
<text x="390.0" y="429.5" font-size="10.2" font-weight="bold" text-anchor="middle" fill="#1e1e1e" textLength="88.4" lengthAdjust="spacingAndGlyphs">Days after ALL cell infusion</text>
<polyline points="320.50,313.60 333.30,313.60 333.30,373.96 337.30,373.96 337.30,404.10" fill="none" stroke="#34204a" stroke-width="1.7" stroke-linejoin="miter" stroke-linecap="butt"/>
<polyline points="320.50,313.60 363.30,313.60 363.30,331.70 365.40,331.70 365.40,349.80 378.00,349.80 378.00,367.90 442.00,367.90" fill="none" stroke="#5d9e3a" stroke-width="1.7" stroke-linejoin="miter" stroke-linecap="butt"/>
<polyline points="320.50,313.60 353.30,313.60 353.30,328.71 360.10,328.71 360.10,343.74 442.00,343.74" fill="none" stroke="#861a3c" stroke-width="1.7" stroke-linejoin="miter" stroke-linecap="butt"/>
<circle cx="363.5" cy="331.70" r="1.35" fill="#111"/>
<circle cx="365.6" cy="349.80" r="1.35" fill="#111"/>
<circle cx="378.2" cy="367.90" r="1.35" fill="#111"/>
<circle cx="442" cy="367.90" r="1.35" fill="#111"/>
<circle cx="442" cy="343.74" r="1.35" fill="#111"/>
<line x1="385.0" y1="327.3" x2="368.6473863348226" y2="329.9452757399552" stroke="#111" stroke-width="1.4" />
<polygon points="364.60,330.60 368.74,327.40 369.54,332.33" fill="#111"/>
<line x1="385.0" y1="327.3" x2="369.6682446311695" y2="345.1870479303023" stroke="#111" stroke-width="1.4" />
<polygon points="367.00,348.30 368.10,343.18 371.89,346.43" fill="#111"/>
<line x1="389.0" y1="330.7" x2="380.6749104659466" y2="361.3434146678988" stroke="#111" stroke-width="1.4" />
<polygon points="379.60,365.30 378.39,360.21 383.22,361.52" fill="#111"/>
<line x1="347.3" y1="347.7" x2="351.24065684772455" y2="334.33267383026765" stroke="#111" stroke-width="1.4" />
<polygon points="352.40,330.40 353.50,335.52 348.70,334.11" fill="#111"/>
<line x1="354.5" y1="349.1" x2="356.1428099874696" y2="347.631957032474" stroke="#111" stroke-width="1.4" />
<polygon points="359.20,344.90 357.44,349.83 354.10,346.10" fill="#111"/>
<text x="399.8" y="327.9" font-size="8.6" text-anchor="middle" font-weight="normal" fill="#1e1e1e" >GvHD</text>
<text x="350.2" y="357.6" font-size="8.6" text-anchor="middle" font-weight="normal" fill="#1e1e1e" >Rel.</text>
<text x="474.4" y="322.0" font-size="8" text-anchor="middle" font-weight="normal" fill="#1e1e1e" >no T cells</text>
<line x1="467.5" y1="327.0" x2="482.5" y2="327.0" stroke="#34204a" stroke-width="1.7" />
<text x="476.6" y="341.3" font-size="8" text-anchor="middle" font-weight="normal" fill="#1e1e1e" >CAR+mCherry</text>
<line x1="467.5" y1="346.3" x2="482.5" y2="346.3" stroke="#5d9e3a" stroke-width="1.7" />
<text x="476.6" y="360.5" font-size="8" text-anchor="middle" font-weight="normal" fill="#1e1e1e" >CAR+PEBL</text>
<line x1="467.5" y1="365.5" x2="482.5" y2="365.5" stroke="#861a3c" stroke-width="1.7" />
<line x1="375.8" y1="378.9" x2="390.7" y2="378.9" stroke="#34204a" stroke-width="1.7" />
<text x="393.8" y="381.5" font-size="7.7" text-anchor="start" font-weight="normal" fill="#1e1e1e" >vs.</text>
<line x1="407.0" y1="378.9" x2="422.4" y2="378.9" stroke="#5d9e3a" stroke-width="1.7" />
<circle cx="426.20" cy="378.80" r="1.2" fill="#151515"/>
<circle cx="429.40" cy="378.80" r="1.2" fill="#151515"/>
<line x1="375.8" y1="388.0" x2="390.7" y2="388.0" stroke="#34204a" stroke-width="1.7" />
<text x="393.8" y="390.6" font-size="7.7" text-anchor="start" font-weight="normal" fill="#1e1e1e" >vs.</text>
<line x1="407.0" y1="388.0" x2="422.4" y2="388.0" stroke="#861a3c" stroke-width="1.7" />
<circle cx="426.20" cy="387.90" r="1.2" fill="#151515"/>
<circle cx="429.40" cy="387.90" r="1.2" fill="#151515"/>
<circle cx="432.60" cy="387.90" r="1.2" fill="#151515"/>
<line x1="375.8" y1="397.3" x2="390.7" y2="397.3" stroke="#5d9e3a" stroke-width="1.7" />
<text x="393.8" y="399.90000000000003" font-size="7.7" text-anchor="start" font-weight="normal" fill="#1e1e1e" >vs.</text>
<line x1="407.0" y1="397.3" x2="422.4" y2="397.3" stroke="#861a3c" stroke-width="1.7" />
<text x="425.3" y="399.7" font-size="7.7" text-anchor="start" font-weight="normal" fill="#1e1e1e" >n.s.</text>
</svg>
</body></html>
